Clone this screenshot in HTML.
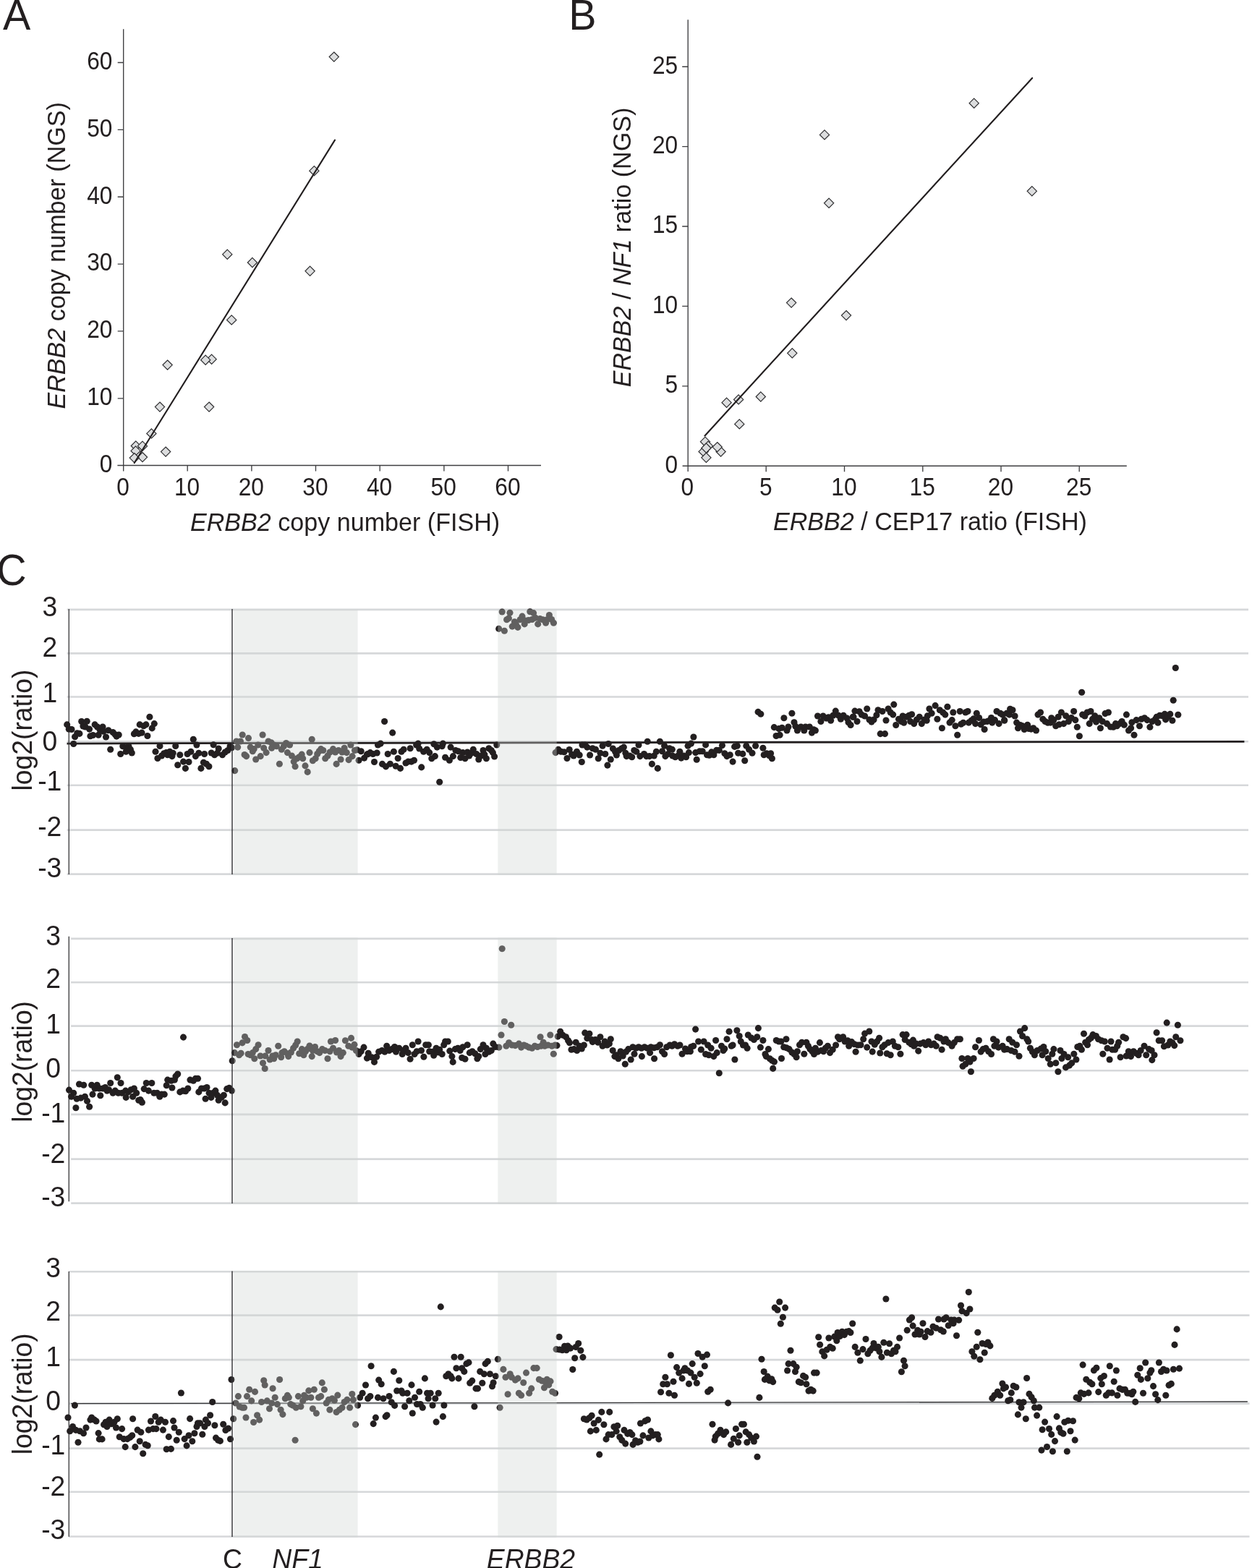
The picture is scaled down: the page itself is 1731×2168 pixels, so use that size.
<!DOCTYPE html>
<html lang="en"><head><meta charset="utf-8"><title>ERBB2 copy number: NGS vs FISH</title>
<style>html,body{margin:0;padding:0;background:#fff}body{width:1731px;height:2168px;overflow:hidden}svg{display:block}text{font-family:'Liberation Sans', 'DejaVu Sans', sans-serif;fill:#231f20}.t{font-size:31.7px}.l{font-size:34.1px}.c{font-size:37.3px}.p{font-size:57.4px}.i{font-style:italic}.ax{stroke:#3e3e40;stroke-width:1.35;fill:none}.g{stroke:#d6d8da;stroke-width:2.6;fill:none}.d{fill:#dcddde;stroke:#2e2e30;stroke-width:1.2}.k{fill:#231f20}</style></head><body>
<svg width="1731" height="2168" viewBox="0 0 1731 2168">
<rect width="1731" height="2168" fill="#fff"/>
<text class="p" transform="translate(3.9 40.8) scale(1 1.03)">A</text>
<text class="p" transform="translate(786.3 40.8) scale(1 1.03)">B</text>
<text class="p" transform="translate(-4.8 809.2) scale(1 1.05)">C</text>
<g id="panelA">
<path class="ax" d="M170.7 40.3V651.5M162.4 643.5H748"/>
<path class="ax" d="M259.2 643.5v8M170.7 550.8h-8M347.9 643.5v8M170.7 457.9h-8M436.5 643.5v8M170.7 365.1h-8M525.2 643.5v8M170.7 272.2h-8M613.9 643.5v8M170.7 179.4h-8M702.5 643.5v8M170.7 86.5h-8"/>
<text class="t" text-anchor="middle" transform="translate(170 684.6) scale(1 1.085)">0</text>
<text class="t" text-anchor="end" transform="translate(155.4 652.9) scale(1 1.085)">0</text>
<text class="t" text-anchor="middle" transform="translate(258.6 684.6) scale(1 1.085)">10</text>
<text class="t" text-anchor="end" transform="translate(155.4 560) scale(1 1.085)">10</text>
<text class="t" text-anchor="middle" transform="translate(347.3 684.6) scale(1 1.085)">20</text>
<text class="t" text-anchor="end" transform="translate(155.4 467.2) scale(1 1.085)">20</text>
<text class="t" text-anchor="middle" transform="translate(435.9 684.6) scale(1 1.085)">30</text>
<text class="t" text-anchor="end" transform="translate(155.4 374.4) scale(1 1.085)">30</text>
<text class="t" text-anchor="middle" transform="translate(524.6 684.6) scale(1 1.085)">40</text>
<text class="t" text-anchor="end" transform="translate(155.4 281.5) scale(1 1.085)">40</text>
<text class="t" text-anchor="middle" transform="translate(613.2 684.6) scale(1 1.085)">50</text>
<text class="t" text-anchor="end" transform="translate(155.4 188.7) scale(1 1.085)">50</text>
<text class="t" text-anchor="middle" transform="translate(701.9 684.6) scale(1 1.085)">60</text>
<text class="t" text-anchor="end" transform="translate(155.4 95.8) scale(1 1.085)">60</text>
<text class="l" transform="translate(263 733.8) scale(1 1.02)"><tspan class="i">ERBB2</tspan> copy number (FISH)</text>
<text class="l" text-anchor="middle" transform="translate(89.5 353.3) rotate(-90) scale(1 1.02)"><tspan class="i">ERBB2</tspan> copy number (NGS)</text>
<path class="d" d="M314.3 345.1l6.6 6.6l-6.6 6.6l-6.6 -6.6z"/>
<path class="d" d="M348.9 356.4l6.6 6.6l-6.6 6.6l-6.6 -6.6z"/>
<path class="d" d="M428.6 368.2l6.6 6.6l-6.6 6.6l-6.6 -6.6z"/>
<path class="d" d="M320.2 435.8l6.6 6.6l-6.6 6.6l-6.6 -6.6z"/>
<path class="d" d="M292.6 490.1l6.6 6.6l-6.6 6.6l-6.6 -6.6z"/>
<path class="d" d="M284.2 491.1l6.6 6.6l-6.6 6.6l-6.6 -6.6z"/>
<path class="d" d="M231.6 498l6.6 6.6l-6.6 6.6l-6.6 -6.6z"/>
<path class="d" d="M221 556l6.6 6.6l-6.6 6.6l-6.6 -6.6z"/>
<path class="d" d="M289.1 556l6.6 6.6l-6.6 6.6l-6.6 -6.6z"/>
<path class="d" d="M209.4 592.8l6.6 6.6l-6.6 6.6l-6.6 -6.6z"/>
<path class="d" d="M187.8 609.9l6.6 6.6l-6.6 6.6l-6.6 -6.6z"/>
<path class="d" d="M197 610.1l6.6 6.6l-6.6 6.6l-6.6 -6.6z"/>
<path class="d" d="M187.6 616.8l6.6 6.6l-6.6 6.6l-6.6 -6.6z"/>
<path class="d" d="M229.1 618l6.6 6.6l-6.6 6.6l-6.6 -6.6z"/>
<path class="d" d="M197 625.5l6.6 6.6l-6.6 6.6l-6.6 -6.6z"/>
<path class="d" d="M185.8 626.5l6.6 6.6l-6.6 6.6l-6.6 -6.6z"/>
<path class="d" d="M461.8 72l6.6 6.6l-6.6 6.6l-6.6 -6.6z"/>
<path class="d" d="M434.4 229.6l6.6 6.6l-6.6 6.6l-6.6 -6.6z"/>
<path d="M185.8 640L463 193.6" stroke="#231f20" stroke-width="2.15" stroke-linecap="round" fill="none"/>
</g>
<g id="panelB">
<path class="ax" d="M951.2 27.2V652M943.6 644.2H1557.8"/>
<path class="ax" d="M1059.2 644.2v8M951.2 533.8h-8M1167.5 644.2v8M951.2 423.4h-8M1275.8 644.2v8M951.2 313h-8M1384 644.2v8M951.2 202.6h-8M1492.2 644.2v8M951.2 92.2h-8"/>
<text class="t" text-anchor="middle" transform="translate(950.4 685.2) scale(1 1.085)">0</text>
<text class="t" text-anchor="end" transform="translate(937.2 653.5) scale(1 1.085)">0</text>
<text class="t" text-anchor="middle" transform="translate(1058.7 685.2) scale(1 1.085)">5</text>
<text class="t" text-anchor="end" transform="translate(937.2 543.1) scale(1 1.085)">5</text>
<text class="t" text-anchor="middle" transform="translate(1166.9 685.2) scale(1 1.085)">10</text>
<text class="t" text-anchor="end" transform="translate(937.2 432.7) scale(1 1.085)">10</text>
<text class="t" text-anchor="middle" transform="translate(1275.2 685.2) scale(1 1.085)">15</text>
<text class="t" text-anchor="end" transform="translate(937.2 322.3) scale(1 1.085)">15</text>
<text class="t" text-anchor="middle" transform="translate(1383.4 685.2) scale(1 1.085)">20</text>
<text class="t" text-anchor="end" transform="translate(937.2 211.9) scale(1 1.085)">20</text>
<text class="t" text-anchor="middle" transform="translate(1491.7 685.2) scale(1 1.085)">25</text>
<text class="t" text-anchor="end" transform="translate(937.2 101.5) scale(1 1.085)">25</text>
<text class="l" transform="translate(1069 732.6) scale(1 1.02)"><tspan class="i">ERBB2</tspan> / CEP17 ratio (FISH)</text>
<text class="l" text-anchor="middle" transform="translate(871.5 342) rotate(-90) scale(1 1.02)"><tspan class="i">ERBB2</tspan> / <tspan class="i">NF1</tspan> ratio (NGS)</text>
<path class="d" d="M1094.1 412l6.6 6.6l-6.6 6.6l-6.6 -6.6z"/>
<path class="d" d="M1170 429.5l6.6 6.6l-6.6 6.6l-6.6 -6.6z"/>
<path class="d" d="M1095.3 481.7l6.6 6.6l-6.6 6.6l-6.6 -6.6z"/>
<path class="d" d="M1051.8 541.9l6.6 6.6l-6.6 6.6l-6.6 -6.6z"/>
<path class="d" d="M1021.1 545.8l6.6 6.6l-6.6 6.6l-6.6 -6.6z"/>
<path class="d" d="M1004.6 550.1l6.6 6.6l-6.6 6.6l-6.6 -6.6z"/>
<path class="d" d="M1022.3 579.8l6.6 6.6l-6.6 6.6l-6.6 -6.6z"/>
<path class="d" d="M975 604.1l6.6 6.6l-6.6 6.6l-6.6 -6.6z"/>
<path class="d" d="M979.1 610.1l6.6 6.6l-6.6 6.6l-6.6 -6.6z"/>
<path class="d" d="M972.6 617.8l6.6 6.6l-6.6 6.6l-6.6 -6.6z"/>
<path class="d" d="M976.4 626.2l6.6 6.6l-6.6 6.6l-6.6 -6.6z"/>
<path class="d" d="M976.4 612.9l6.6 6.6l-6.6 6.6l-6.6 -6.6z"/>
<path class="d" d="M996.6 617.9l6.6 6.6l-6.6 6.6l-6.6 -6.6z"/>
<path class="d" d="M991.7 611.5l6.6 6.6l-6.6 6.6l-6.6 -6.6z"/>
<path class="d" d="M1140 179.8l6.6 6.6l-6.6 6.6l-6.6 -6.6z"/>
<path class="d" d="M1146.1 274.2l6.6 6.6l-6.6 6.6l-6.6 -6.6z"/>
<path class="d" d="M1346.7 136.1l6.6 6.6l-6.6 6.6l-6.6 -6.6z"/>
<path class="d" d="M1426.8 257.7l6.6 6.6l-6.6 6.6l-6.6 -6.6z"/>
<path d="M974.5 602.4L1427.1 107.9" stroke="#231f20" stroke-width="2.15" stroke-linecap="round" fill="none"/>
</g>
<g id="panelC">
<g id="c1">
<path class="g" d="M92.7 842.9H1726M92.7 903.4H1726M92.7 963.5H1726M92.7 1025.2H1726M92.7 1085.7H1726M92.7 1147.6H1726M92.7 1208.6H1726"/>
<path d="M92.5 1028L1720.4 1025.3" stroke="#231f20" stroke-width="2.75" fill="none"/>
<path class="ax" d="M95.3 842V1209"/>
<g class="k"><circle cx="92.7" cy="1001.9" r="4.55"/><circle cx="95.2" cy="1008.1" r="4.55"/><circle cx="99" cy="1008.5" r="4.55"/><circle cx="101.7" cy="1028.5" r="4.55"/><circle cx="103.6" cy="1018.7" r="4.55"/><circle cx="106.7" cy="1013.7" r="4.55"/><circle cx="109.9" cy="1014.4" r="4.55"/><circle cx="112.7" cy="997.5" r="4.55"/><circle cx="114.9" cy="1004" r="4.55"/><circle cx="118" cy="1005" r="4.55"/><circle cx="120.2" cy="997.2" r="4.55"/><circle cx="123.6" cy="1008.1" r="4.55"/><circle cx="124.9" cy="1017.7" r="4.55"/><circle cx="128.6" cy="1016.5" r="4.55"/><circle cx="131.1" cy="1001.9" r="4.55"/><circle cx="134.5" cy="1005" r="4.55"/><circle cx="136.1" cy="1016.2" r="4.55"/><circle cx="138" cy="1008.7" r="4.55"/><circle cx="142" cy="1005" r="4.55"/><circle cx="143" cy="1011.2" r="4.55"/><circle cx="146.5" cy="1019" r="4.55"/><circle cx="149.8" cy="1009.7" r="4.55"/><circle cx="152.7" cy="1036.2" r="4.55"/><circle cx="156.1" cy="1012.5" r="4.55"/><circle cx="159.2" cy="1015.6" r="4.55"/><circle cx="161.1" cy="1018.1" r="4.55"/><circle cx="164.2" cy="1016" r="4.55"/><circle cx="166.7" cy="1042.5" r="4.55"/><circle cx="169.8" cy="1031.8" r="4.55"/><circle cx="174.2" cy="1033.7" r="4.55"/><circle cx="174.2" cy="1039.3" r="4.55"/><circle cx="177.9" cy="1031.8" r="4.55"/><circle cx="180.4" cy="1036.2" r="4.55"/><circle cx="182.3" cy="1041" r="4.55"/><circle cx="185.4" cy="1014.7" r="4.55"/><circle cx="187.9" cy="1011.9" r="4.55"/><circle cx="191.7" cy="1014.4" r="4.55"/><circle cx="193.2" cy="1001.9" r="4.55"/><circle cx="196.1" cy="1013.1" r="4.55"/><circle cx="198.6" cy="1003.7" r="4.55"/><circle cx="201.9" cy="1001.9" r="4.55"/><circle cx="203.9" cy="1017.5" r="4.55"/><circle cx="206.9" cy="991.2" r="4.55"/><circle cx="210.2" cy="1006.9" r="4.55"/><circle cx="213.3" cy="1000.6" r="4.55"/><circle cx="215" cy="1039.3" r="4.55"/><circle cx="217.9" cy="1048.5" r="4.55"/><circle cx="221" cy="1031.5" r="4.55"/><circle cx="223.5" cy="1045" r="4.55"/><circle cx="226.7" cy="1041.8" r="4.55"/><circle cx="229.8" cy="1040.6" r="4.55"/><circle cx="231.7" cy="1043.7" r="4.55"/><circle cx="234.8" cy="1039.3" r="4.55"/><circle cx="237.9" cy="1045.6" r="4.55"/><circle cx="239.2" cy="1041.2" r="4.55"/><circle cx="242.7" cy="1031.5" r="4.55"/><circle cx="245.7" cy="1057.7" r="4.55"/><circle cx="248.8" cy="1043.7" r="4.55"/><circle cx="253.5" cy="1053.1" r="4.55"/><circle cx="256.4" cy="1062.4" r="4.55"/><circle cx="259.1" cy="1042.5" r="4.55"/><circle cx="261" cy="1053.5" r="4.55"/><circle cx="263.9" cy="1039.3" r="4.55"/><circle cx="267.3" cy="1022.2" r="4.55"/><circle cx="270.4" cy="1045.6" r="4.55"/><circle cx="271.9" cy="1030" r="4.55"/><circle cx="274.8" cy="1041.2" r="4.55"/><circle cx="277.9" cy="1062.4" r="4.55"/><circle cx="281.4" cy="1054.3" r="4.55"/><circle cx="282.6" cy="1042.5" r="4.55"/><circle cx="285.4" cy="1056.2" r="4.55"/><circle cx="288.9" cy="1059.7" r="4.55"/><circle cx="292.2" cy="1041" r="4.55"/><circle cx="295.1" cy="1029.7" r="4.55"/><circle cx="296.6" cy="1043.7" r="4.55"/><circle cx="300.4" cy="1041.2" r="4.55"/><circle cx="302.2" cy="1035" r="4.55"/><circle cx="307.5" cy="1043.7" r="4.55"/><circle cx="311.2" cy="1040" r="4.55"/><circle cx="315" cy="1037.5" r="4.55"/><circle cx="318.1" cy="1031.8" r="4.55"/><circle cx="320.6" cy="1033.7" r="4.55"/><circle cx="324.7" cy="1065.6" r="4.55"/><circle cx="326.9" cy="1025" r="4.55"/><circle cx="328.7" cy="1033.1" r="4.55"/><circle cx="332.5" cy="1025" r="4.55"/><circle cx="335.2" cy="1016" r="4.55"/><circle cx="338.1" cy="1043.5" r="4.55"/><circle cx="340.6" cy="1045.6" r="4.55"/><circle cx="343.5" cy="1020.6" r="4.55"/><circle cx="346.2" cy="1033.1" r="4.55"/><circle cx="349.3" cy="1038.7" r="4.55"/><circle cx="351.2" cy="1035.6" r="4.55"/><circle cx="353.7" cy="1050" r="4.55"/><circle cx="356.8" cy="1030" r="4.55"/><circle cx="360.2" cy="1045.6" r="4.55"/><circle cx="363.1" cy="1016" r="4.55"/><circle cx="364.7" cy="1034.3" r="4.55"/><circle cx="368.1" cy="1040.6" r="4.55"/><circle cx="371" cy="1025" r="4.55"/><circle cx="375" cy="1026.8" r="4.55"/><circle cx="375.6" cy="1034.3" r="4.55"/><circle cx="378.7" cy="1030" r="4.55"/><circle cx="382.4" cy="1031.8" r="4.55"/><circle cx="386.4" cy="1056.2" r="4.55"/><circle cx="389.3" cy="1036.2" r="4.55"/><circle cx="392.4" cy="1031.8" r="4.55"/><circle cx="395.6" cy="1027.5" r="4.55"/><circle cx="397.4" cy="1040.6" r="4.55"/><circle cx="400.6" cy="1030" r="4.55"/><circle cx="403.4" cy="1045" r="4.55"/><circle cx="406.2" cy="1053.1" r="4.55"/><circle cx="408.1" cy="1059.7" r="4.55"/><circle cx="410.6" cy="1048.7" r="4.55"/><circle cx="413.7" cy="1046.8" r="4.55"/><circle cx="417.2" cy="1043.1" r="4.55"/><circle cx="418.7" cy="1048.7" r="4.55"/><circle cx="422" cy="1058.9" r="4.55"/><circle cx="425.2" cy="1067.4" r="4.55"/><circle cx="428" cy="1040.6" r="4.55"/><circle cx="431.2" cy="1022.2" r="4.55"/><circle cx="432.4" cy="1051.8" r="4.55"/><circle cx="436.2" cy="1048.7" r="4.55"/><circle cx="438.7" cy="1042.5" r="4.55"/><circle cx="441.2" cy="1038.7" r="4.55"/><circle cx="443.7" cy="1035.6" r="4.55"/><circle cx="446.8" cy="1037.5" r="4.55"/><circle cx="449.7" cy="1048.7" r="4.55"/><circle cx="453" cy="1045" r="4.55"/><circle cx="456.1" cy="1040" r="4.55"/><circle cx="460.5" cy="1035.6" r="4.55"/><circle cx="463.6" cy="1040" r="4.55"/><circle cx="465.1" cy="1056.4" r="4.55"/><circle cx="468" cy="1037.5" r="4.55"/><circle cx="471.1" cy="1050" r="4.55"/><circle cx="473" cy="1040" r="4.55"/><circle cx="476.1" cy="1034.3" r="4.55"/><circle cx="479.3" cy="1040.6" r="4.55"/><circle cx="482.1" cy="1050.6" r="4.55"/><circle cx="484.9" cy="1030" r="4.55"/><circle cx="487.1" cy="1045.6" r="4.55"/><circle cx="490.5" cy="1037.5" r="4.55"/><circle cx="493.6" cy="1036.8" r="4.55"/><circle cx="496.1" cy="1051.2" r="4.55"/><circle cx="499.2" cy="1038.7" r="4.55"/><circle cx="503.6" cy="1048.1" r="4.55"/><circle cx="507.4" cy="1043.1" r="4.55"/><circle cx="508.7" cy="1042.5" r="4.55"/><circle cx="511.9" cy="1040.6" r="4.55"/><circle cx="515.6" cy="1042.5" r="4.55"/><circle cx="517.5" cy="1053.5" r="4.55"/><circle cx="521.2" cy="1041" r="4.55"/><circle cx="522.5" cy="1030" r="4.55"/><circle cx="526.2" cy="1028.1" r="4.55"/><circle cx="528.5" cy="1056.4" r="4.55"/><circle cx="531.6" cy="997.5" r="4.55"/><circle cx="533.5" cy="1059.9" r="4.55"/><circle cx="536.2" cy="1042.5" r="4.55"/><circle cx="539.4" cy="1056.2" r="4.55"/><circle cx="542.7" cy="1013.1" r="4.55"/><circle cx="544.4" cy="1039.3" r="4.55"/><circle cx="547.2" cy="1059.3" r="4.55"/><circle cx="550.2" cy="1048.5" r="4.55"/><circle cx="553.5" cy="1062.4" r="4.55"/><circle cx="555" cy="1039.3" r="4.55"/><circle cx="558.1" cy="1036.2" r="4.55"/><circle cx="561" cy="1055" r="4.55"/><circle cx="564.3" cy="1053.1" r="4.55"/><circle cx="567.2" cy="1034.7" r="4.55"/><circle cx="568.7" cy="1053.1" r="4.55"/><circle cx="572.5" cy="1051.2" r="4.55"/><circle cx="575.6" cy="1030" r="4.55"/><circle cx="578.1" cy="1028.1" r="4.55"/><circle cx="579.7" cy="1035" r="4.55"/><circle cx="582.7" cy="1060.9" r="4.55"/><circle cx="585.6" cy="1039.3" r="4.55"/><circle cx="590.2" cy="1036.2" r="4.55"/><circle cx="593.7" cy="1040.6" r="4.55"/><circle cx="596.8" cy="1048.7" r="4.55"/><circle cx="599.9" cy="1028.7" r="4.55"/><circle cx="601.4" cy="1045.6" r="4.55"/><circle cx="604.3" cy="1033.1" r="4.55"/><circle cx="607.7" cy="1081.2" r="4.55"/><circle cx="611.2" cy="1031.8" r="4.55"/><circle cx="612.4" cy="1028.1" r="4.55"/><circle cx="615.6" cy="1047.2" r="4.55"/><circle cx="621.4" cy="1051.2" r="4.55"/><circle cx="623.1" cy="1033.1" r="4.55"/><circle cx="626.4" cy="1045.6" r="4.55"/><circle cx="629.9" cy="1037.5" r="4.55"/><circle cx="633.7" cy="1038.7" r="4.55"/><circle cx="636.8" cy="1047.5" r="4.55"/><circle cx="639.9" cy="1040.6" r="4.55"/><circle cx="643" cy="1048.7" r="4.55"/><circle cx="646.2" cy="1040" r="4.55"/><circle cx="648.7" cy="1045" r="4.55"/><circle cx="651.8" cy="1041.2" r="4.55"/><circle cx="654.3" cy="1036.2" r="4.55"/><circle cx="658.7" cy="1042.5" r="4.55"/><circle cx="661.8" cy="1050" r="4.55"/><circle cx="664.9" cy="1045" r="4.55"/><circle cx="668" cy="1037.5" r="4.55"/><circle cx="669.9" cy="1043.1" r="4.55"/><circle cx="672.4" cy="1048.7" r="4.55"/><circle cx="675.9" cy="1034.7" r="4.55"/><circle cx="679.3" cy="1037.5" r="4.55"/><circle cx="681.4" cy="1040.6" r="4.55"/><circle cx="683.6" cy="1046" r="4.55"/><circle cx="686.8" cy="1030" r="4.55"/><circle cx="689.7" cy="869.4" r="4.55"/><circle cx="694.2" cy="846" r="4.55"/><circle cx="697.4" cy="872.3" r="4.55"/><circle cx="700.6" cy="856.8" r="4.55"/><circle cx="703.4" cy="854.9" r="4.55"/><circle cx="705" cy="847.3" r="4.55"/><circle cx="708.2" cy="866.1" r="4.55"/><circle cx="711.4" cy="859.7" r="4.55"/><circle cx="713.4" cy="863.2" r="4.55"/><circle cx="715.9" cy="867.4" r="4.55"/><circle cx="719.1" cy="856.8" r="4.55"/><circle cx="722" cy="852.1" r="4.55"/><circle cx="725.2" cy="862.9" r="4.55"/><circle cx="726.1" cy="858.1" r="4.55"/><circle cx="730.6" cy="857.5" r="4.55"/><circle cx="732.8" cy="845.7" r="4.55"/><circle cx="735.7" cy="856.5" r="4.55"/><circle cx="737.6" cy="847.6" r="4.55"/><circle cx="740.2" cy="854.3" r="4.55"/><circle cx="743.7" cy="862.9" r="4.55"/><circle cx="746.6" cy="855.6" r="4.55"/><circle cx="750.4" cy="856.8" r="4.55"/><circle cx="754.6" cy="861.3" r="4.55"/><circle cx="756.2" cy="856.8" r="4.55"/><circle cx="759.4" cy="850.5" r="4.55"/><circle cx="762.6" cy="856.5" r="4.55"/><circle cx="765.4" cy="861.3" r="4.55"/><circle cx="768.1" cy="1040.6" r="4.55"/><circle cx="771.9" cy="1036.2" r="4.55"/><circle cx="775.6" cy="1039.3" r="4.55"/><circle cx="780" cy="1039.7" r="4.55"/><circle cx="784" cy="1048.5" r="4.55"/><circle cx="787.2" cy="1036.5" r="4.55"/><circle cx="790.6" cy="1043.1" r="4.55"/><circle cx="793.1" cy="1045" r="4.55"/><circle cx="797.5" cy="1039.3" r="4.55"/><circle cx="801.2" cy="1044" r="4.55"/><circle cx="804.3" cy="1053.5" r="4.55"/><circle cx="805" cy="1030" r="4.55"/><circle cx="808.7" cy="1030" r="4.55"/><circle cx="811.8" cy="1033.1" r="4.55"/><circle cx="815.6" cy="1044" r="4.55"/><circle cx="819.3" cy="1034.7" r="4.55"/><circle cx="823.5" cy="1036.2" r="4.55"/><circle cx="827.2" cy="1048.7" r="4.55"/><circle cx="830" cy="1041.2" r="4.55"/><circle cx="833.1" cy="1031.2" r="4.55"/><circle cx="836.8" cy="1042.5" r="4.55"/><circle cx="839.9" cy="1058.1" r="4.55"/><circle cx="841.2" cy="1028.5" r="4.55"/><circle cx="844.3" cy="1050" r="4.55"/><circle cx="847.4" cy="1035" r="4.55"/><circle cx="850.6" cy="1039.3" r="4.55"/><circle cx="852.4" cy="1044" r="4.55"/><circle cx="855.6" cy="1037.5" r="4.55"/><circle cx="859.3" cy="1035" r="4.55"/><circle cx="862.4" cy="1033.1" r="4.55"/><circle cx="864.9" cy="1041.2" r="4.55"/><circle cx="866.2" cy="1045.6" r="4.55"/><circle cx="870.6" cy="1045" r="4.55"/><circle cx="873.7" cy="1046.8" r="4.55"/><circle cx="876.8" cy="1037.5" r="4.55"/><circle cx="879.9" cy="1039.3" r="4.55"/><circle cx="883" cy="1030" r="4.55"/><circle cx="884.9" cy="1045.6" r="4.55"/><circle cx="890.5" cy="1042.5" r="4.55"/><circle cx="893.7" cy="1045.6" r="4.55"/><circle cx="895.2" cy="1025.3" r="4.55"/><circle cx="898" cy="1045.6" r="4.55"/><circle cx="901.4" cy="1056.4" r="4.55"/><circle cx="904.3" cy="1045" r="4.55"/><circle cx="907.4" cy="1039.3" r="4.55"/><circle cx="909.3" cy="1062.4" r="4.55"/><circle cx="912.4" cy="1025.3" r="4.55"/><circle cx="915.5" cy="1038.7" r="4.55"/><circle cx="918.6" cy="1031.2" r="4.55"/><circle cx="919.9" cy="1045.6" r="4.55"/><circle cx="923.6" cy="1042.5" r="4.55"/><circle cx="925.5" cy="1034.7" r="4.55"/><circle cx="929.3" cy="1036.2" r="4.55"/><circle cx="929.9" cy="1045" r="4.55"/><circle cx="933.6" cy="1046.8" r="4.55"/><circle cx="937.4" cy="1045" r="4.55"/><circle cx="939.9" cy="1039.3" r="4.55"/><circle cx="941.8" cy="1048.1" r="4.55"/><circle cx="945.5" cy="1045" r="4.55"/><circle cx="948.6" cy="1046.8" r="4.55"/><circle cx="951.1" cy="1031.2" r="4.55"/><circle cx="952.4" cy="1040.6" r="4.55"/><circle cx="955.5" cy="1028.1" r="4.55"/><circle cx="958.9" cy="1019" r="4.55"/><circle cx="961.7" cy="1040.6" r="4.55"/><circle cx="963.2" cy="1050.3" r="4.55"/><circle cx="967.4" cy="1038.7" r="4.55"/><circle cx="971.2" cy="1038.7" r="4.55"/><circle cx="975.6" cy="1029.9" r="4.55"/><circle cx="977.5" cy="1043.7" r="4.55"/><circle cx="980.6" cy="1044.3" r="4.55"/><circle cx="983.7" cy="1039.9" r="4.55"/><circle cx="986.9" cy="1043.7" r="4.55"/><circle cx="990.6" cy="1037.4" r="4.55"/><circle cx="994.4" cy="1037.4" r="4.55"/><circle cx="998.5" cy="1030.6" r="4.55"/><circle cx="1001.9" cy="1041.8" r="4.55"/><circle cx="1005" cy="1045.6" r="4.55"/><circle cx="1009.3" cy="1043.7" r="4.55"/><circle cx="1013.1" cy="1053.1" r="4.55"/><circle cx="1015.6" cy="1032.4" r="4.55"/><circle cx="1019.3" cy="1031.2" r="4.55"/><circle cx="1020.6" cy="1041.2" r="4.55"/><circle cx="1026.8" cy="1042.4" r="4.55"/><circle cx="1029.7" cy="1051.8" r="4.55"/><circle cx="1031.8" cy="1031.2" r="4.55"/><circle cx="1035.6" cy="1036.2" r="4.55"/><circle cx="1040" cy="1041.2" r="4.55"/><circle cx="1044.6" cy="1031.2" r="4.55"/><circle cx="1048.1" cy="984.4" r="4.55"/><circle cx="1051.8" cy="987.2" r="4.55"/><circle cx="1054.9" cy="1034.3" r="4.55"/><circle cx="1056.2" cy="1043.7" r="4.55"/><circle cx="1059.9" cy="1041.8" r="4.55"/><circle cx="1063.7" cy="1044.9" r="4.55"/><circle cx="1065.6" cy="1041.8" r="4.55"/><circle cx="1067.4" cy="1048.7" r="4.55"/><circle cx="1070.3" cy="1005.6" r="4.55"/><circle cx="1073.1" cy="1017.5" r="4.55"/><circle cx="1076.8" cy="1007.5" r="4.55"/><circle cx="1078.1" cy="1016.2" r="4.55"/><circle cx="1081.2" cy="1006.2" r="4.55"/><circle cx="1083.9" cy="992.7" r="4.55"/><circle cx="1088" cy="1010" r="4.55"/><circle cx="1089.9" cy="1005" r="4.55"/><circle cx="1094.9" cy="986.2" r="4.55"/><circle cx="1098" cy="998.7" r="4.55"/><circle cx="1099.9" cy="1004.3" r="4.55"/><circle cx="1102.4" cy="1010" r="4.55"/><circle cx="1107.4" cy="1005" r="4.55"/><circle cx="1111.8" cy="1010" r="4.55"/><circle cx="1113.7" cy="1005" r="4.55"/><circle cx="1119.3" cy="1005" r="4.55"/><circle cx="1122.4" cy="1013.1" r="4.55"/><circle cx="1124.9" cy="1008.7" r="4.55"/><circle cx="1127.4" cy="1010" r="4.55"/><circle cx="1130.5" cy="990" r="4.55"/><circle cx="1134.9" cy="997.5" r="4.55"/><circle cx="1138" cy="990" r="4.55"/><circle cx="1142.4" cy="993.1" r="4.55"/><circle cx="1145.5" cy="991.8" r="4.55"/><circle cx="1148.6" cy="996.2" r="4.55"/><circle cx="1151.8" cy="989.3" r="4.55"/><circle cx="1155.3" cy="983.1" r="4.55"/><circle cx="1159.3" cy="989.3" r="4.55"/><circle cx="1162.4" cy="994.3" r="4.55"/><circle cx="1166.1" cy="989.3" r="4.55"/><circle cx="1171.1" cy="993.1" r="4.55"/><circle cx="1173" cy="998.7" r="4.55"/><circle cx="1176.1" cy="1002.5" r="4.55"/><circle cx="1179.2" cy="991.2" r="4.55"/><circle cx="1180" cy="991.2" r="4.55"/><circle cx="1181.9" cy="983.1" r="4.55"/><circle cx="1185" cy="997.5" r="4.55"/><circle cx="1188.1" cy="983.7" r="4.55"/><circle cx="1191.2" cy="988.1" r="4.55"/><circle cx="1195.6" cy="990" r="4.55"/><circle cx="1198.7" cy="980" r="4.55"/><circle cx="1201.9" cy="995" r="4.55"/><circle cx="1205" cy="998.1" r="4.55"/><circle cx="1208.1" cy="995" r="4.55"/><circle cx="1211.9" cy="988.7" r="4.55"/><circle cx="1214" cy="981.8" r="4.55"/><circle cx="1217.2" cy="1014.6" r="4.55"/><circle cx="1220" cy="983.5" r="4.55"/><circle cx="1223.5" cy="1014.6" r="4.55"/><circle cx="1225" cy="996" r="4.55"/><circle cx="1228.1" cy="980" r="4.55"/><circle cx="1231.2" cy="985" r="4.55"/><circle cx="1234.7" cy="988.1" r="4.55"/><circle cx="1235.8" cy="974.1" r="4.55"/><circle cx="1238.7" cy="1002.5" r="4.55"/><circle cx="1242.5" cy="994.3" r="4.55"/><circle cx="1246.2" cy="997.5" r="4.55"/><circle cx="1248.1" cy="990" r="4.55"/><circle cx="1249.7" cy="999.3" r="4.55"/><circle cx="1253.1" cy="991.2" r="4.55"/><circle cx="1256.8" cy="989.3" r="4.55"/><circle cx="1258.7" cy="997.5" r="4.55"/><circle cx="1260.6" cy="987.7" r="4.55"/><circle cx="1263.7" cy="1000.6" r="4.55"/><circle cx="1267.4" cy="995" r="4.55"/><circle cx="1271.2" cy="991.2" r="4.55"/><circle cx="1274.3" cy="1000.6" r="4.55"/><circle cx="1278.1" cy="995" r="4.55"/><circle cx="1281.2" cy="996.2" r="4.55"/><circle cx="1282.4" cy="989.7" r="4.55"/><circle cx="1284.9" cy="980" r="4.55"/><circle cx="1288.1" cy="986.2" r="4.55"/><circle cx="1293.1" cy="975.6" r="4.55"/><circle cx="1295.9" cy="994.3" r="4.55"/><circle cx="1299.3" cy="981.8" r="4.55"/><circle cx="1302.4" cy="1006.8" r="4.55"/><circle cx="1303.7" cy="985" r="4.55"/><circle cx="1306.8" cy="988.1" r="4.55"/><circle cx="1309.9" cy="977.2" r="4.55"/><circle cx="1313" cy="999.1" r="4.55"/><circle cx="1316.2" cy="995.6" r="4.55"/><circle cx="1317.8" cy="985" r="4.55"/><circle cx="1320.9" cy="1003.7" r="4.55"/><circle cx="1323.7" cy="1016.2" r="4.55"/><circle cx="1327.2" cy="983.5" r="4.55"/><circle cx="1328.7" cy="1001.2" r="4.55"/><circle cx="1331.8" cy="999.3" r="4.55"/><circle cx="1334.9" cy="985" r="4.55"/><circle cx="1338" cy="983.5" r="4.55"/><circle cx="1339.3" cy="999.1" r="4.55"/><circle cx="1343" cy="996.2" r="4.55"/><circle cx="1346.1" cy="993.7" r="4.55"/><circle cx="1348.6" cy="1000.6" r="4.55"/><circle cx="1350.3" cy="986.2" r="4.55"/><circle cx="1353.6" cy="992.5" r="4.55"/><circle cx="1356.1" cy="1001.8" r="4.55"/><circle cx="1359.9" cy="998.1" r="4.55"/><circle cx="1361.1" cy="1008.5" r="4.55"/><circle cx="1364.9" cy="997.5" r="4.55"/><circle cx="1368" cy="996.2" r="4.55"/><circle cx="1370.5" cy="992.5" r="4.55"/><circle cx="1371.8" cy="999.1" r="4.55"/><circle cx="1375.5" cy="995.6" r="4.55"/><circle cx="1378" cy="983.5" r="4.55"/><circle cx="1381.1" cy="1000.6" r="4.55"/><circle cx="1383" cy="986.2" r="4.55"/><circle cx="1386.1" cy="988.1" r="4.55"/><circle cx="1388.6" cy="995.6" r="4.55"/><circle cx="1388.7" cy="996.2" r="4.55"/><circle cx="1391.9" cy="986.2" r="4.55"/><circle cx="1395.6" cy="988.1" r="4.55"/><circle cx="1396.6" cy="980.3" r="4.55"/><circle cx="1400" cy="981.8" r="4.55"/><circle cx="1403.1" cy="990" r="4.55"/><circle cx="1405.6" cy="999.1" r="4.55"/><circle cx="1407.5" cy="1006.8" r="4.55"/><circle cx="1410.6" cy="1002.5" r="4.55"/><circle cx="1413.7" cy="1003.7" r="4.55"/><circle cx="1416.2" cy="1008.5" r="4.55"/><circle cx="1420.6" cy="1002.2" r="4.55"/><circle cx="1422.5" cy="1007.5" r="4.55"/><circle cx="1425.6" cy="1008.1" r="4.55"/><circle cx="1428.7" cy="1006.8" r="4.55"/><circle cx="1432.5" cy="1010" r="4.55"/><circle cx="1435" cy="988.1" r="4.55"/><circle cx="1438.5" cy="985" r="4.55"/><circle cx="1441.8" cy="994.3" r="4.55"/><circle cx="1445" cy="997.5" r="4.55"/><circle cx="1448.7" cy="999.3" r="4.55"/><circle cx="1452.5" cy="999.1" r="4.55"/><circle cx="1453.7" cy="992.8" r="4.55"/><circle cx="1456.8" cy="995.6" r="4.55"/><circle cx="1459.7" cy="1003.7" r="4.55"/><circle cx="1463.1" cy="991.2" r="4.55"/><circle cx="1464.3" cy="1001.8" r="4.55"/><circle cx="1467.4" cy="985" r="4.55"/><circle cx="1470.6" cy="1000.6" r="4.55"/><circle cx="1473.7" cy="989.7" r="4.55"/><circle cx="1477.4" cy="997.5" r="4.55"/><circle cx="1481.2" cy="992.5" r="4.55"/><circle cx="1484.6" cy="983.5" r="4.55"/><circle cx="1486.8" cy="995.6" r="4.55"/><circle cx="1489.3" cy="1005.3" r="4.55"/><circle cx="1492.4" cy="1017.8" r="4.55"/><circle cx="1495.6" cy="957.2" r="4.55"/><circle cx="1496.6" cy="988.1" r="4.55"/><circle cx="1499.9" cy="990" r="4.55"/><circle cx="1503.1" cy="985" r="4.55"/><circle cx="1506.2" cy="1000.6" r="4.55"/><circle cx="1508" cy="983.5" r="4.55"/><circle cx="1510.5" cy="994.3" r="4.55"/><circle cx="1513.7" cy="989.7" r="4.55"/><circle cx="1515.5" cy="998.1" r="4.55"/><circle cx="1519.9" cy="992.8" r="4.55"/><circle cx="1521.4" cy="1006.8" r="4.55"/><circle cx="1524.3" cy="997.5" r="4.55"/><circle cx="1528" cy="986.6" r="4.55"/><circle cx="1530.5" cy="1000.6" r="4.55"/><circle cx="1532.4" cy="985" r="4.55"/><circle cx="1535.5" cy="1005" r="4.55"/><circle cx="1539.3" cy="1005.3" r="4.55"/><circle cx="1542.4" cy="1000.6" r="4.55"/><circle cx="1544.3" cy="1003.7" r="4.55"/><circle cx="1548" cy="1000.6" r="4.55"/><circle cx="1551.1" cy="997.5" r="4.55"/><circle cx="1554.3" cy="1002.2" r="4.55"/><circle cx="1557.4" cy="988.1" r="4.55"/><circle cx="1560.5" cy="1010" r="4.55"/><circle cx="1563.6" cy="1006.8" r="4.55"/><circle cx="1564.9" cy="998.7" r="4.55"/><circle cx="1568" cy="1016.2" r="4.55"/><circle cx="1571.1" cy="995.6" r="4.55"/><circle cx="1575.5" cy="1003.7" r="4.55"/><circle cx="1578" cy="994.3" r="4.55"/><circle cx="1582.4" cy="992.8" r="4.55"/><circle cx="1586.1" cy="995.6" r="4.55"/><circle cx="1589.9" cy="1005.3" r="4.55"/><circle cx="1593" cy="997.5" r="4.55"/><circle cx="1597.4" cy="994.3" r="4.55"/><circle cx="1599.2" cy="991.2" r="4.55"/><circle cx="1600.9" cy="999.3" r="4.55"/><circle cx="1603.4" cy="989.3" r="4.55"/><circle cx="1607.2" cy="989.9" r="4.55"/><circle cx="1610.3" cy="987.4" r="4.55"/><circle cx="1611.6" cy="994.9" r="4.55"/><circle cx="1614.7" cy="991.2" r="4.55"/><circle cx="1617.8" cy="987.4" r="4.55"/><circle cx="1620.9" cy="996.2" r="4.55"/><circle cx="1622.2" cy="968.3" r="4.55"/><circle cx="1625.3" cy="923.5" r="4.55"/><circle cx="1628.8" cy="988.3" r="4.55"/></g>
<rect x="323.2" y="842.4" width="171.4" height="367.5" fill="#d0d5d2" fill-opacity="0.36"/>
<rect x="688.3" y="842.4" width="81.4" height="367.5" fill="#d0d5d2" fill-opacity="0.36"/>
<path d="M321 842.1V1208.9" stroke="#3a3a3c" stroke-width="1.5" fill="none"/>
<text class="c" transform="translate(58.6 852) scale(1 1.05)">3</text>
<text class="c" transform="translate(58.6 908.2) scale(1 1.05)">2</text>
<text class="c" transform="translate(58.6 970.6) scale(1 1.05)">1</text>
<text class="c" transform="translate(58.6 1037.5) scale(1 1.05)">0</text>
<text class="c" transform="translate(52.2 1093.4) scale(1 1.05)">-1</text>
<text class="c" transform="translate(52.2 1156.2) scale(1 1.05)">-2</text>
<text class="c" transform="translate(52.2 1213.3) scale(1 1.05)">-3</text>
<text class="c" text-anchor="middle" transform="translate(44.2 1009.6) rotate(-90) scale(1 1.05)">log2(ratio)</text>
</g>
<g id="c2">
<path class="g" d="M98.2 1297.9H1726M98.2 1358.2H1726M98.2 1418.6H1726M98.2 1480.3H1726M98.2 1540.9H1726M98.2 1602.6H1726M98.2 1663.6H1726"/>
<path class="ax" d="M95.3 1294.8V1661.3"/>
<g class="k"><circle cx="95.5" cy="1507.1" r="4.55"/><circle cx="98.6" cy="1516.2" r="4.55"/><circle cx="101.7" cy="1511.2" r="4.55"/><circle cx="104.9" cy="1531.8" r="4.55"/><circle cx="106.1" cy="1519.3" r="4.55"/><circle cx="109.5" cy="1499" r="4.55"/><circle cx="111.7" cy="1518.1" r="4.55"/><circle cx="115.7" cy="1500.3" r="4.55"/><circle cx="117.4" cy="1516.2" r="4.55"/><circle cx="120.5" cy="1522.4" r="4.55"/><circle cx="123.6" cy="1530.2" r="4.55"/><circle cx="126.7" cy="1500.3" r="4.55"/><circle cx="128" cy="1513.1" r="4.55"/><circle cx="131.1" cy="1505" r="4.55"/><circle cx="134.2" cy="1500.3" r="4.55"/><circle cx="137.3" cy="1505" r="4.55"/><circle cx="138.8" cy="1514.7" r="4.55"/><circle cx="142.3" cy="1505" r="4.55"/><circle cx="145.5" cy="1503.5" r="4.55"/><circle cx="148" cy="1508.1" r="4.55"/><circle cx="150.5" cy="1506.8" r="4.55"/><circle cx="152.7" cy="1497.5" r="4.55"/><circle cx="156.1" cy="1511.2" r="4.55"/><circle cx="159.2" cy="1508.1" r="4.55"/><circle cx="162.3" cy="1489.7" r="4.55"/><circle cx="163.6" cy="1511.2" r="4.55"/><circle cx="167" cy="1497.5" r="4.55"/><circle cx="168.6" cy="1511.2" r="4.55"/><circle cx="173.6" cy="1508.1" r="4.55"/><circle cx="174.2" cy="1517.4" r="4.55"/><circle cx="177.3" cy="1509.9" r="4.55"/><circle cx="181.1" cy="1506.8" r="4.55"/><circle cx="183.6" cy="1516.2" r="4.55"/><circle cx="185.4" cy="1505" r="4.55"/><circle cx="188.6" cy="1511.2" r="4.55"/><circle cx="191.7" cy="1521.2" r="4.55"/><circle cx="194.2" cy="1520.6" r="4.55"/><circle cx="196.4" cy="1524.3" r="4.55"/><circle cx="199.2" cy="1505.6" r="4.55"/><circle cx="202.3" cy="1497.5" r="4.55"/><circle cx="205.4" cy="1508.1" r="4.55"/><circle cx="209.8" cy="1497.5" r="4.55"/><circle cx="212.9" cy="1511.2" r="4.55"/><circle cx="217.3" cy="1511.2" r="4.55"/><circle cx="220.8" cy="1516.2" r="4.55"/><circle cx="223.5" cy="1513.1" r="4.55"/><circle cx="227.3" cy="1513.1" r="4.55"/><circle cx="230.2" cy="1500.8" r="4.55"/><circle cx="231.7" cy="1493.1" r="4.55"/><circle cx="236.7" cy="1494.3" r="4.55"/><circle cx="237.9" cy="1504" r="4.55"/><circle cx="241.4" cy="1493.1" r="4.55"/><circle cx="242.9" cy="1488.1" r="4.55"/><circle cx="245.7" cy="1485" r="4.55"/><circle cx="248.8" cy="1509.9" r="4.55"/><circle cx="252.9" cy="1508.1" r="4.55"/><circle cx="253.5" cy="1434.1" r="4.55"/><circle cx="256.6" cy="1508.7" r="4.55"/><circle cx="259.8" cy="1505" r="4.55"/><circle cx="262.9" cy="1493.1" r="4.55"/><circle cx="267.3" cy="1494.3" r="4.55"/><circle cx="270.4" cy="1491.2" r="4.55"/><circle cx="273.5" cy="1491.2" r="4.55"/><circle cx="274.8" cy="1509.9" r="4.55"/><circle cx="278.5" cy="1505" r="4.55"/><circle cx="282.3" cy="1505" r="4.55"/><circle cx="284.1" cy="1519.3" r="4.55"/><circle cx="286" cy="1503.5" r="4.55"/><circle cx="289.1" cy="1511.2" r="4.55"/><circle cx="291.9" cy="1517.4" r="4.55"/><circle cx="294.7" cy="1511.2" r="4.55"/><circle cx="297.9" cy="1508.1" r="4.55"/><circle cx="300.4" cy="1514.3" r="4.55"/><circle cx="302.2" cy="1521.2" r="4.55"/><circle cx="306.2" cy="1517.4" r="4.55"/><circle cx="309.4" cy="1514.3" r="4.55"/><circle cx="311.2" cy="1524.9" r="4.55"/><circle cx="313.7" cy="1505.6" r="4.55"/><circle cx="316.9" cy="1504.3" r="4.55"/><circle cx="320.6" cy="1508.1" r="4.55"/><circle cx="321.2" cy="1466.8" r="4.55"/><circle cx="324.4" cy="1455.6" r="4.55"/><circle cx="327.5" cy="1444.7" r="4.55"/><circle cx="330.6" cy="1458.7" r="4.55"/><circle cx="333.1" cy="1456.2" r="4.55"/><circle cx="335" cy="1441.9" r="4.55"/><circle cx="338.5" cy="1433.5" r="4.55"/><circle cx="341.8" cy="1438.5" r="4.55"/><circle cx="343.1" cy="1457.5" r="4.55"/><circle cx="346.2" cy="1458.7" r="4.55"/><circle cx="349.3" cy="1455.6" r="4.55"/><circle cx="351.8" cy="1463.7" r="4.55"/><circle cx="353.7" cy="1450.6" r="4.55"/><circle cx="357.1" cy="1444.7" r="4.55"/><circle cx="360" cy="1460" r="4.55"/><circle cx="363.5" cy="1469.7" r="4.55"/><circle cx="366.2" cy="1477.5" r="4.55"/><circle cx="366.8" cy="1460" r="4.55"/><circle cx="371" cy="1452.5" r="4.55"/><circle cx="373.1" cy="1465" r="4.55"/><circle cx="376.8" cy="1460" r="4.55"/><circle cx="378.7" cy="1463.7" r="4.55"/><circle cx="381.2" cy="1458.7" r="4.55"/><circle cx="384.7" cy="1446.2" r="4.55"/><circle cx="388.7" cy="1461.8" r="4.55"/><circle cx="389.9" cy="1455.6" r="4.55"/><circle cx="393.1" cy="1453.7" r="4.55"/><circle cx="397.4" cy="1456.8" r="4.55"/><circle cx="398.7" cy="1460.6" r="4.55"/><circle cx="402.4" cy="1455" r="4.55"/><circle cx="405.6" cy="1449.3" r="4.55"/><circle cx="408.7" cy="1445" r="4.55"/><circle cx="411.2" cy="1440" r="4.55"/><circle cx="413.7" cy="1456.8" r="4.55"/><circle cx="417.4" cy="1450.6" r="4.55"/><circle cx="419.9" cy="1458.7" r="4.55"/><circle cx="422.4" cy="1453.7" r="4.55"/><circle cx="424.9" cy="1450.6" r="4.55"/><circle cx="428" cy="1446" r="4.55"/><circle cx="431.2" cy="1460.6" r="4.55"/><circle cx="432.4" cy="1452.5" r="4.55"/><circle cx="435.5" cy="1447.5" r="4.55"/><circle cx="438.7" cy="1453.7" r="4.55"/><circle cx="441.8" cy="1455.6" r="4.55"/><circle cx="445.5" cy="1450.6" r="4.55"/><circle cx="449.3" cy="1452.5" r="4.55"/><circle cx="453" cy="1463.7" r="4.55"/><circle cx="456.1" cy="1453.7" r="4.55"/><circle cx="457.4" cy="1440" r="4.55"/><circle cx="460.5" cy="1449.3" r="4.55"/><circle cx="463.6" cy="1438.5" r="4.55"/><circle cx="465.5" cy="1455" r="4.55"/><circle cx="468.6" cy="1452.5" r="4.55"/><circle cx="471.1" cy="1460.6" r="4.55"/><circle cx="474.3" cy="1455.6" r="4.55"/><circle cx="477.4" cy="1438.7" r="4.55"/><circle cx="481.8" cy="1446.2" r="4.55"/><circle cx="485.5" cy="1435.4" r="4.55"/><circle cx="486.8" cy="1448.1" r="4.55"/><circle cx="489.9" cy="1444.4" r="4.55"/><circle cx="492.4" cy="1452.5" r="4.55"/><circle cx="496.1" cy="1457.5" r="4.55"/><circle cx="499.2" cy="1453.7" r="4.55"/><circle cx="503" cy="1448.1" r="4.55"/><circle cx="507.4" cy="1463.1" r="4.55"/><circle cx="509.2" cy="1456.2" r="4.55"/><circle cx="513.7" cy="1461.8" r="4.55"/><circle cx="517.5" cy="1468.4" r="4.55"/><circle cx="520.6" cy="1461.2" r="4.55"/><circle cx="523.7" cy="1454.3" r="4.55"/><circle cx="528.1" cy="1452.5" r="4.55"/><circle cx="531.9" cy="1454.3" r="4.55"/><circle cx="534.7" cy="1446.2" r="4.55"/><circle cx="538.1" cy="1452.5" r="4.55"/><circle cx="541.9" cy="1450.6" r="4.55"/><circle cx="545.6" cy="1447.5" r="4.55"/><circle cx="547.5" cy="1454.3" r="4.55"/><circle cx="551.8" cy="1449.3" r="4.55"/><circle cx="556.2" cy="1457.5" r="4.55"/><circle cx="557.5" cy="1452.5" r="4.55"/><circle cx="561" cy="1449.3" r="4.55"/><circle cx="564.3" cy="1455.6" r="4.55"/><circle cx="567.1" cy="1464.3" r="4.55"/><circle cx="570.3" cy="1444.7" r="4.55"/><circle cx="573.1" cy="1457.5" r="4.55"/><circle cx="576.2" cy="1453.7" r="4.55"/><circle cx="578.1" cy="1440" r="4.55"/><circle cx="582.5" cy="1452.5" r="4.55"/><circle cx="585.9" cy="1461.2" r="4.55"/><circle cx="588.7" cy="1444.7" r="4.55"/><circle cx="592.4" cy="1444.7" r="4.55"/><circle cx="593.7" cy="1453.7" r="4.55"/><circle cx="598.1" cy="1454.3" r="4.55"/><circle cx="599.7" cy="1459.3" r="4.55"/><circle cx="603.1" cy="1449.3" r="4.55"/><circle cx="606.2" cy="1455" r="4.55"/><circle cx="607.7" cy="1451.2" r="4.55"/><circle cx="611.2" cy="1457.5" r="4.55"/><circle cx="613.7" cy="1444.7" r="4.55"/><circle cx="615.6" cy="1440" r="4.55"/><circle cx="619.3" cy="1440" r="4.55"/><circle cx="621.8" cy="1453.1" r="4.55"/><circle cx="624.9" cy="1460.6" r="4.55"/><circle cx="626.2" cy="1468.4" r="4.55"/><circle cx="629.3" cy="1450.6" r="4.55"/><circle cx="633" cy="1449.3" r="4.55"/><circle cx="636.2" cy="1452.5" r="4.55"/><circle cx="638.7" cy="1462.5" r="4.55"/><circle cx="639.9" cy="1447.8" r="4.55"/><circle cx="643" cy="1464.3" r="4.55"/><circle cx="646.2" cy="1444.7" r="4.55"/><circle cx="649.3" cy="1455.6" r="4.55"/><circle cx="653" cy="1453.7" r="4.55"/><circle cx="656.8" cy="1456.8" r="4.55"/><circle cx="659.9" cy="1463.7" r="4.55"/><circle cx="661.8" cy="1460.6" r="4.55"/><circle cx="664.3" cy="1450.6" r="4.55"/><circle cx="668" cy="1444.7" r="4.55"/><circle cx="670.9" cy="1457.5" r="4.55"/><circle cx="672.4" cy="1449.3" r="4.55"/><circle cx="676.1" cy="1454.3" r="4.55"/><circle cx="679.3" cy="1452.5" r="4.55"/><circle cx="681.8" cy="1443.1" r="4.55"/><circle cx="684.9" cy="1447.5" r="4.55"/><circle cx="689.9" cy="1448.1" r="4.55"/><circle cx="693" cy="1431" r="4.55"/><circle cx="694.2" cy="1311.8" r="4.55"/><circle cx="697.4" cy="1412.5" r="4.55"/><circle cx="699.9" cy="1446.2" r="4.55"/><circle cx="703.6" cy="1441.8" r="4.55"/><circle cx="706.7" cy="1417.2" r="4.55"/><circle cx="708" cy="1445" r="4.55"/><circle cx="712.4" cy="1445.6" r="4.55"/><circle cx="717.4" cy="1443.1" r="4.55"/><circle cx="720.6" cy="1448.1" r="4.55"/><circle cx="724.4" cy="1445" r="4.55"/><circle cx="727.5" cy="1446.2" r="4.55"/><circle cx="731.2" cy="1448.1" r="4.55"/><circle cx="735.6" cy="1449.3" r="4.55"/><circle cx="739.4" cy="1446.2" r="4.55"/><circle cx="743.1" cy="1447.5" r="4.55"/><circle cx="747.1" cy="1433.7" r="4.55"/><circle cx="748.1" cy="1446.2" r="4.55"/><circle cx="751.2" cy="1441.2" r="4.55"/><circle cx="753.1" cy="1446.2" r="4.55"/><circle cx="757.5" cy="1445" r="4.55"/><circle cx="760.8" cy="1431" r="4.55"/><circle cx="763.1" cy="1446.2" r="4.55"/><circle cx="765.3" cy="1457.2" r="4.55"/><circle cx="767.5" cy="1445" r="4.55"/><circle cx="770" cy="1445.6" r="4.55"/><circle cx="771.2" cy="1433.1" r="4.55"/><circle cx="774.7" cy="1426.2" r="4.55"/><circle cx="778.1" cy="1431.2" r="4.55"/><circle cx="782.5" cy="1433.7" r="4.55"/><circle cx="785.6" cy="1438.7" r="4.55"/><circle cx="787.5" cy="1441.8" r="4.55"/><circle cx="790" cy="1451.2" r="4.55"/><circle cx="793.7" cy="1450.6" r="4.55"/><circle cx="796.2" cy="1441.2" r="4.55"/><circle cx="797.7" cy="1452.5" r="4.55"/><circle cx="801.2" cy="1446.2" r="4.55"/><circle cx="804.3" cy="1450" r="4.55"/><circle cx="807.4" cy="1445" r="4.55"/><circle cx="808.7" cy="1428.1" r="4.55"/><circle cx="811.8" cy="1435.6" r="4.55"/><circle cx="814.9" cy="1429.3" r="4.55"/><circle cx="818.1" cy="1437.5" r="4.55"/><circle cx="819.3" cy="1440.6" r="4.55"/><circle cx="823.1" cy="1437.5" r="4.55"/><circle cx="826.8" cy="1441.2" r="4.55"/><circle cx="829.9" cy="1433.7" r="4.55"/><circle cx="833.1" cy="1446.2" r="4.55"/><circle cx="836.2" cy="1440" r="4.55"/><circle cx="839.3" cy="1445" r="4.55"/><circle cx="842.4" cy="1443.1" r="4.55"/><circle cx="844.3" cy="1436.8" r="4.55"/><circle cx="847.2" cy="1452.5" r="4.55"/><circle cx="849.9" cy="1460.6" r="4.55"/><circle cx="852.4" cy="1458.7" r="4.55"/><circle cx="854.9" cy="1463.7" r="4.55"/><circle cx="858" cy="1453.7" r="4.55"/><circle cx="861.2" cy="1460" r="4.55"/><circle cx="864.3" cy="1471.2" r="4.55"/><circle cx="865.5" cy="1454.3" r="4.55"/><circle cx="868.7" cy="1450.6" r="4.55"/><circle cx="872.2" cy="1465" r="4.55"/><circle cx="874.9" cy="1447.8" r="4.55"/><circle cx="877" cy="1457.2" r="4.55"/><circle cx="879.3" cy="1449.3" r="4.55"/><circle cx="883" cy="1447.8" r="4.55"/><circle cx="886.8" cy="1449.3" r="4.55"/><circle cx="887.4" cy="1460.6" r="4.55"/><circle cx="891.1" cy="1447.8" r="4.55"/><circle cx="894.9" cy="1449.3" r="4.55"/><circle cx="898.6" cy="1455.6" r="4.55"/><circle cx="899.9" cy="1447.8" r="4.55"/><circle cx="904.3" cy="1448.7" r="4.55"/><circle cx="904.6" cy="1463.7" r="4.55"/><circle cx="908.6" cy="1447.8" r="4.55"/><circle cx="912.4" cy="1444.7" r="4.55"/><circle cx="915.5" cy="1453.7" r="4.55"/><circle cx="918.6" cy="1457.5" r="4.55"/><circle cx="921.7" cy="1447.8" r="4.55"/><circle cx="926.1" cy="1445" r="4.55"/><circle cx="929.2" cy="1446.2" r="4.55"/><circle cx="932.5" cy="1443.7" r="4.55"/><circle cx="936.9" cy="1446.2" r="4.55"/><circle cx="940" cy="1445" r="4.55"/><circle cx="943.1" cy="1457.2" r="4.55"/><circle cx="947.5" cy="1450" r="4.55"/><circle cx="950" cy="1453.7" r="4.55"/><circle cx="954.4" cy="1453.7" r="4.55"/><circle cx="955.6" cy="1447.5" r="4.55"/><circle cx="958.7" cy="1446.2" r="4.55"/><circle cx="961.6" cy="1423.1" r="4.55"/><circle cx="965.6" cy="1440" r="4.55"/><circle cx="969.3" cy="1451.2" r="4.55"/><circle cx="973.1" cy="1440" r="4.55"/><circle cx="975.6" cy="1457.5" r="4.55"/><circle cx="978.7" cy="1445" r="4.55"/><circle cx="980" cy="1458.7" r="4.55"/><circle cx="983.1" cy="1449.3" r="4.55"/><circle cx="986.8" cy="1460.6" r="4.55"/><circle cx="989.6" cy="1438.5" r="4.55"/><circle cx="991.2" cy="1455.6" r="4.55"/><circle cx="994.3" cy="1483.7" r="4.55"/><circle cx="997.5" cy="1446.2" r="4.55"/><circle cx="1000" cy="1452.5" r="4.55"/><circle cx="1001.8" cy="1450" r="4.55"/><circle cx="1005" cy="1436.8" r="4.55"/><circle cx="1008.1" cy="1426.2" r="4.55"/><circle cx="1011.2" cy="1446.2" r="4.55"/><circle cx="1013.1" cy="1445" r="4.55"/><circle cx="1015.9" cy="1465" r="4.55"/><circle cx="1018.9" cy="1424.7" r="4.55"/><circle cx="1022.2" cy="1432.5" r="4.55"/><circle cx="1024.3" cy="1440" r="4.55"/><circle cx="1027.4" cy="1445" r="4.55"/><circle cx="1030.6" cy="1445" r="4.55"/><circle cx="1033.1" cy="1449.3" r="4.55"/><circle cx="1034.3" cy="1431" r="4.55"/><circle cx="1038.7" cy="1435" r="4.55"/><circle cx="1042.4" cy="1437.5" r="4.55"/><circle cx="1046.8" cy="1433.7" r="4.55"/><circle cx="1048.4" cy="1421.6" r="4.55"/><circle cx="1051.4" cy="1448.1" r="4.55"/><circle cx="1054.9" cy="1438.5" r="4.55"/><circle cx="1058" cy="1457.5" r="4.55"/><circle cx="1059.3" cy="1460.6" r="4.55"/><circle cx="1062.4" cy="1450.6" r="4.55"/><circle cx="1064.3" cy="1463.7" r="4.55"/><circle cx="1067.4" cy="1466.2" r="4.55"/><circle cx="1068.7" cy="1477.4" r="4.55"/><circle cx="1070.5" cy="1468.1" r="4.55"/><circle cx="1073.3" cy="1438.5" r="4.55"/><circle cx="1076.8" cy="1440" r="4.55"/><circle cx="1079.9" cy="1440" r="4.55"/><circle cx="1080.5" cy="1463.5" r="4.55"/><circle cx="1083.7" cy="1447.8" r="4.55"/><circle cx="1087" cy="1436.8" r="4.55"/><circle cx="1087.4" cy="1448.7" r="4.55"/><circle cx="1091.1" cy="1450.6" r="4.55"/><circle cx="1094.9" cy="1455" r="4.55"/><circle cx="1098" cy="1457.5" r="4.55"/><circle cx="1101.1" cy="1461.8" r="4.55"/><circle cx="1102.4" cy="1453.7" r="4.55"/><circle cx="1105.5" cy="1444.7" r="4.55"/><circle cx="1108.6" cy="1441.2" r="4.55"/><circle cx="1111.8" cy="1457.2" r="4.55"/><circle cx="1114.9" cy="1441.2" r="4.55"/><circle cx="1117.4" cy="1446.2" r="4.55"/><circle cx="1119.9" cy="1450.6" r="4.55"/><circle cx="1123" cy="1453.7" r="4.55"/><circle cx="1125.5" cy="1457.5" r="4.55"/><circle cx="1127.4" cy="1449.3" r="4.55"/><circle cx="1130.5" cy="1454.3" r="4.55"/><circle cx="1133.4" cy="1441.6" r="4.55"/><circle cx="1135.5" cy="1452.5" r="4.55"/><circle cx="1138.6" cy="1453.7" r="4.55"/><circle cx="1141.2" cy="1449.3" r="4.55"/><circle cx="1144.4" cy="1446.2" r="4.55"/><circle cx="1147.5" cy="1455.6" r="4.55"/><circle cx="1151.2" cy="1451.2" r="4.55"/><circle cx="1155.6" cy="1445" r="4.55"/><circle cx="1158.5" cy="1433.7" r="4.55"/><circle cx="1160.6" cy="1436.8" r="4.55"/><circle cx="1165.6" cy="1433.7" r="4.55"/><circle cx="1168.1" cy="1440" r="4.55"/><circle cx="1171.9" cy="1438.7" r="4.55"/><circle cx="1173.7" cy="1446.2" r="4.55"/><circle cx="1177.5" cy="1440.6" r="4.55"/><circle cx="1181.2" cy="1443.7" r="4.55"/><circle cx="1183.1" cy="1454.3" r="4.55"/><circle cx="1186.2" cy="1445" r="4.55"/><circle cx="1190" cy="1444.7" r="4.55"/><circle cx="1193.7" cy="1436.8" r="4.55"/><circle cx="1195.6" cy="1429.1" r="4.55"/><circle cx="1198.7" cy="1448.1" r="4.55"/><circle cx="1201.8" cy="1426" r="4.55"/><circle cx="1205" cy="1440" r="4.55"/><circle cx="1206.2" cy="1454.1" r="4.55"/><circle cx="1209.3" cy="1444.3" r="4.55"/><circle cx="1212.5" cy="1440" r="4.55"/><circle cx="1215.6" cy="1435.3" r="4.55"/><circle cx="1216.8" cy="1456" r="4.55"/><circle cx="1219.9" cy="1447.8" r="4.55"/><circle cx="1223.1" cy="1444.7" r="4.55"/><circle cx="1226.2" cy="1456.8" r="4.55"/><circle cx="1228.1" cy="1441.6" r="4.55"/><circle cx="1231.2" cy="1458.7" r="4.55"/><circle cx="1234.3" cy="1440" r="4.55"/><circle cx="1237.4" cy="1446.2" r="4.55"/><circle cx="1241.8" cy="1447.8" r="4.55"/><circle cx="1244.9" cy="1457.2" r="4.55"/><circle cx="1248.1" cy="1430.6" r="4.55"/><circle cx="1251.2" cy="1437.5" r="4.55"/><circle cx="1253.1" cy="1430.6" r="4.55"/><circle cx="1256.8" cy="1441.2" r="4.55"/><circle cx="1259.9" cy="1443.7" r="4.55"/><circle cx="1262.4" cy="1438.1" r="4.55"/><circle cx="1263.7" cy="1446.2" r="4.55"/><circle cx="1266.8" cy="1443.1" r="4.55"/><circle cx="1269.7" cy="1453.1" r="4.55"/><circle cx="1272.4" cy="1443.1" r="4.55"/><circle cx="1276.8" cy="1441.6" r="4.55"/><circle cx="1279.9" cy="1444.7" r="4.55"/><circle cx="1283.7" cy="1440" r="4.55"/><circle cx="1287.4" cy="1444.7" r="4.55"/><circle cx="1291.2" cy="1443.1" r="4.55"/><circle cx="1294.3" cy="1446.2" r="4.55"/><circle cx="1296.1" cy="1433.7" r="4.55"/><circle cx="1299.9" cy="1435.3" r="4.55"/><circle cx="1302.1" cy="1451.2" r="4.55"/><circle cx="1304.9" cy="1440" r="4.55"/><circle cx="1307.4" cy="1436.8" r="4.55"/><circle cx="1311.1" cy="1441.6" r="4.55"/><circle cx="1316.1" cy="1446.2" r="4.55"/><circle cx="1319.3" cy="1441.6" r="4.55"/><circle cx="1323.6" cy="1436.8" r="4.55"/><circle cx="1327.4" cy="1436.8" r="4.55"/><circle cx="1329.9" cy="1463.5" r="4.55"/><circle cx="1331.1" cy="1474.3" r="4.55"/><circle cx="1334.9" cy="1471.2" r="4.55"/><circle cx="1338" cy="1463.5" r="4.55"/><circle cx="1341.1" cy="1468.1" r="4.55"/><circle cx="1342.4" cy="1481.8" r="4.55"/><circle cx="1346.1" cy="1463.5" r="4.55"/><circle cx="1348.6" cy="1447.8" r="4.55"/><circle cx="1353.4" cy="1438.5" r="4.55"/><circle cx="1356.1" cy="1454.1" r="4.55"/><circle cx="1359.2" cy="1450.6" r="4.55"/><circle cx="1363" cy="1449.3" r="4.55"/><circle cx="1366.7" cy="1453.7" r="4.55"/><circle cx="1370.5" cy="1457.5" r="4.55"/><circle cx="1373.4" cy="1436.8" r="4.55"/><circle cx="1374.9" cy="1446.2" r="4.55"/><circle cx="1378" cy="1440" r="4.55"/><circle cx="1380.5" cy="1448.1" r="4.55"/><circle cx="1386.1" cy="1446.2" r="4.55"/><circle cx="1388.6" cy="1451.2" r="4.55"/><circle cx="1392.3" cy="1450.6" r="4.55"/><circle cx="1395.2" cy="1436.8" r="4.55"/><circle cx="1398" cy="1452.5" r="4.55"/><circle cx="1399.8" cy="1441.2" r="4.55"/><circle cx="1403" cy="1454.3" r="4.55"/><circle cx="1405.5" cy="1444.7" r="4.55"/><circle cx="1409" cy="1460.3" r="4.55"/><circle cx="1410.5" cy="1426" r="4.55"/><circle cx="1413.6" cy="1432.5" r="4.55"/><circle cx="1416.7" cy="1421.6" r="4.55"/><circle cx="1419.8" cy="1436.8" r="4.55"/><circle cx="1421.7" cy="1440" r="4.55"/><circle cx="1424.4" cy="1449.3" r="4.55"/><circle cx="1427.3" cy="1454.1" r="4.55"/><circle cx="1430.4" cy="1458.7" r="4.55"/><circle cx="1434.2" cy="1452.5" r="4.55"/><circle cx="1439.2" cy="1450" r="4.55"/><circle cx="1441.1" cy="1458.7" r="4.55"/><circle cx="1442.9" cy="1447.5" r="4.55"/><circle cx="1445.7" cy="1453.7" r="4.55"/><circle cx="1449.2" cy="1463.5" r="4.55"/><circle cx="1452.3" cy="1471.2" r="4.55"/><circle cx="1454.8" cy="1457.2" r="4.55"/><circle cx="1456.9" cy="1450.6" r="4.55"/><circle cx="1459.8" cy="1469.7" r="4.55"/><circle cx="1462.9" cy="1481.8" r="4.55"/><circle cx="1466" cy="1452.5" r="4.55"/><circle cx="1467.9" cy="1463.5" r="4.55"/><circle cx="1471" cy="1457.5" r="4.55"/><circle cx="1473.5" cy="1475.9" r="4.55"/><circle cx="1476.7" cy="1461.8" r="4.55"/><circle cx="1478.5" cy="1473.1" r="4.55"/><circle cx="1481.7" cy="1469.9" r="4.55"/><circle cx="1484.8" cy="1457.2" r="4.55"/><circle cx="1487.9" cy="1465" r="4.55"/><circle cx="1489.8" cy="1447.5" r="4.55"/><circle cx="1492.9" cy="1446.2" r="4.55"/><circle cx="1495.4" cy="1451.2" r="4.55"/><circle cx="1498.5" cy="1429.3" r="4.55"/><circle cx="1500.7" cy="1441.2" r="4.55"/><circle cx="1503.5" cy="1444.7" r="4.55"/><circle cx="1505.4" cy="1437.5" r="4.55"/><circle cx="1508.5" cy="1435" r="4.55"/><circle cx="1511" cy="1430.6" r="4.55"/><circle cx="1515.4" cy="1432.5" r="4.55"/><circle cx="1518.5" cy="1436.8" r="4.55"/><circle cx="1522.9" cy="1438.7" r="4.55"/><circle cx="1524.8" cy="1457.2" r="4.55"/><circle cx="1527.3" cy="1440" r="4.55"/><circle cx="1531" cy="1449.3" r="4.55"/><circle cx="1534.1" cy="1465" r="4.55"/><circle cx="1536" cy="1440" r="4.55"/><circle cx="1537.9" cy="1451.2" r="4.55"/><circle cx="1541.6" cy="1451.2" r="4.55"/><circle cx="1544.7" cy="1446.2" r="4.55"/><circle cx="1546.6" cy="1441.2" r="4.55"/><circle cx="1549.1" cy="1461.8" r="4.55"/><circle cx="1552.9" cy="1433.7" r="4.55"/><circle cx="1556.6" cy="1435.6" r="4.55"/><circle cx="1557.2" cy="1460" r="4.55"/><circle cx="1560.3" cy="1453.7" r="4.55"/><circle cx="1563.5" cy="1460.6" r="4.55"/><circle cx="1567.2" cy="1453.7" r="4.55"/><circle cx="1571" cy="1456.2" r="4.55"/><circle cx="1574.1" cy="1458.7" r="4.55"/><circle cx="1577.2" cy="1452.5" r="4.55"/><circle cx="1582" cy="1446.2" r="4.55"/><circle cx="1584.7" cy="1458.7" r="4.55"/><circle cx="1588.5" cy="1450.6" r="4.55"/><circle cx="1592.2" cy="1452.5" r="4.55"/><circle cx="1592.8" cy="1465.6" r="4.55"/><circle cx="1596" cy="1458.7" r="4.55"/><circle cx="1599.1" cy="1427.8" r="4.55"/><circle cx="1602.2" cy="1438.7" r="4.55"/><circle cx="1606.6" cy="1438.7" r="4.55"/><circle cx="1609.4" cy="1446.8" r="4.55"/><circle cx="1613.2" cy="1414.1" r="4.55"/><circle cx="1614.7" cy="1445" r="4.55"/><circle cx="1617.8" cy="1440" r="4.55"/><circle cx="1620.9" cy="1441.8" r="4.55"/><circle cx="1623.7" cy="1445.6" r="4.55"/><circle cx="1625.7" cy="1433.7" r="4.55"/><circle cx="1628.4" cy="1417.2" r="4.55"/><circle cx="1631.9" cy="1438.7" r="4.55"/></g>
<rect x="323.2" y="1296.4" width="171.4" height="368.5" fill="#d0d5d2" fill-opacity="0.36"/>
<rect x="688.3" y="1296.4" width="81.4" height="368.5" fill="#d0d5d2" fill-opacity="0.36"/>
<path d="M321 1297.1V1663.9" stroke="#3a3a3c" stroke-width="1.5" fill="none"/>
<text class="c" transform="translate(63.2 1306.6) scale(1 1.05)">3</text>
<text class="c" transform="translate(63.2 1366.2) scale(1 1.05)">2</text>
<text class="c" transform="translate(63.2 1428.6) scale(1 1.05)">1</text>
<text class="c" transform="translate(63.2 1490.4) scale(1 1.05)">0</text>
<text class="c" transform="translate(57.2 1551.7) scale(1 1.05)">-1</text>
<text class="c" transform="translate(57.2 1608.4) scale(1 1.05)">-2</text>
<text class="c" transform="translate(57.2 1668.4) scale(1 1.05)">-3</text>
<text class="c" text-anchor="middle" transform="translate(44.2 1467.9) rotate(-90) scale(1 1.05)">log2(ratio)</text>
</g>
<g id="c3">
<path class="g" d="M95.3 1758.2H1727.5M95.3 1818.6H1727.5M95.3 1880.1H1727.5M95.3 1940.6H1727.5M95.3 2002.6H1727.5M95.3 2062.7H1727.5M95.3 2124.5H1727.5"/>
<path d="M98.2 1940.6L1724.9 1938" stroke="#333335" stroke-width="1.3" fill="none"/>
<path class="ax" d="M95.3 1757.9V2124.7"/>
<g class="k"><circle cx="94" cy="1960" r="4.55"/><circle cx="96.7" cy="1978.7" r="4.55"/><circle cx="100.5" cy="1972.5" r="4.55"/><circle cx="103.4" cy="1943.1" r="4.55"/><circle cx="104.9" cy="1977.4" r="4.55"/><circle cx="108" cy="1994.3" r="4.55"/><circle cx="110.5" cy="1978.7" r="4.55"/><circle cx="115.5" cy="1981.8" r="4.55"/><circle cx="119" cy="1974" r="4.55"/><circle cx="124.9" cy="1963.1" r="4.55"/><circle cx="126.7" cy="1960" r="4.55"/><circle cx="130.5" cy="1963.1" r="4.55"/><circle cx="133" cy="1965" r="4.55"/><circle cx="136.1" cy="1981.6" r="4.55"/><circle cx="137.3" cy="1989.9" r="4.55"/><circle cx="141.1" cy="1989.9" r="4.55"/><circle cx="143.6" cy="1969.7" r="4.55"/><circle cx="146.1" cy="1966.2" r="4.55"/><circle cx="148" cy="1972.5" r="4.55"/><circle cx="151.1" cy="1963.1" r="4.55"/><circle cx="154.2" cy="1968.7" r="4.55"/><circle cx="158" cy="1966.2" r="4.55"/><circle cx="160.5" cy="1974" r="4.55"/><circle cx="162.3" cy="1961.8" r="4.55"/><circle cx="165.2" cy="1986.8" r="4.55"/><circle cx="168.6" cy="1975.6" r="4.55"/><circle cx="171.1" cy="1989.6" r="4.55"/><circle cx="173.2" cy="2000.6" r="4.55"/><circle cx="176.1" cy="1989.6" r="4.55"/><circle cx="179.8" cy="1987.4" r="4.55"/><circle cx="182.7" cy="1984.7" r="4.55"/><circle cx="183.6" cy="1961.8" r="4.55"/><circle cx="186.9" cy="2000.6" r="4.55"/><circle cx="190.1" cy="1977.1" r="4.55"/><circle cx="193.2" cy="1992.7" r="4.55"/><circle cx="194.8" cy="1980.3" r="4.55"/><circle cx="197.7" cy="2009.7" r="4.55"/><circle cx="201.1" cy="1997.4" r="4.55"/><circle cx="204.2" cy="1998.7" r="4.55"/><circle cx="205.4" cy="1977.1" r="4.55"/><circle cx="208.5" cy="1965" r="4.55"/><circle cx="211.7" cy="1975.6" r="4.55"/><circle cx="214.8" cy="1958.5" r="4.55"/><circle cx="216" cy="1975.6" r="4.55"/><circle cx="219.2" cy="1966.2" r="4.55"/><circle cx="222.3" cy="1963.1" r="4.55"/><circle cx="225.4" cy="1977.1" r="4.55"/><circle cx="228.5" cy="1966.2" r="4.55"/><circle cx="230.2" cy="2003.7" r="4.55"/><circle cx="233.3" cy="1986.6" r="4.55"/><circle cx="236.4" cy="2003.4" r="4.55"/><circle cx="239.5" cy="1964.6" r="4.55"/><circle cx="241" cy="1974" r="4.55"/><circle cx="244.2" cy="1991.2" r="4.55"/><circle cx="247.3" cy="1980.3" r="4.55"/><circle cx="250.4" cy="1926" r="4.55"/><circle cx="255.1" cy="1989.6" r="4.55"/><circle cx="258.1" cy="1998.9" r="4.55"/><circle cx="261" cy="1984.7" r="4.55"/><circle cx="262.6" cy="1961.6" r="4.55"/><circle cx="265.8" cy="1992.7" r="4.55"/><circle cx="268.9" cy="1981.8" r="4.55"/><circle cx="272" cy="1972.5" r="4.55"/><circle cx="273.5" cy="1967.7" r="4.55"/><circle cx="276.6" cy="1967.7" r="4.55"/><circle cx="279.8" cy="1983.3" r="4.55"/><circle cx="282.9" cy="1972.5" r="4.55"/><circle cx="284.4" cy="1963.1" r="4.55"/><circle cx="287.5" cy="1967.7" r="4.55"/><circle cx="290.6" cy="1956.8" r="4.55"/><circle cx="293.7" cy="1938.5" r="4.55"/><circle cx="296.9" cy="1970.8" r="4.55"/><circle cx="298.5" cy="1988.1" r="4.55"/><circle cx="301.6" cy="1991.2" r="4.55"/><circle cx="304.4" cy="1992.4" r="4.55"/><circle cx="308.7" cy="1969.3" r="4.55"/><circle cx="311.9" cy="1977.5" r="4.55"/><circle cx="315.6" cy="1975" r="4.55"/><circle cx="318.5" cy="1989.7" r="4.55"/><circle cx="320" cy="1907.5" r="4.55"/><circle cx="322.7" cy="1961.8" r="4.55"/><circle cx="326" cy="1940" r="4.55"/><circle cx="329.4" cy="1930.6" r="4.55"/><circle cx="331.2" cy="1945" r="4.55"/><circle cx="335" cy="1946.2" r="4.55"/><circle cx="337.5" cy="1946.2" r="4.55"/><circle cx="340" cy="1960" r="4.55"/><circle cx="341.5" cy="1930.6" r="4.55"/><circle cx="344.7" cy="1921.2" r="4.55"/><circle cx="347.7" cy="1936.9" r="4.55"/><circle cx="350.6" cy="1966.5" r="4.55"/><circle cx="352.5" cy="1924.4" r="4.55"/><circle cx="355.6" cy="1956.8" r="4.55"/><circle cx="358.7" cy="1963.1" r="4.55"/><circle cx="361.6" cy="1938.5" r="4.55"/><circle cx="364.7" cy="1908.7" r="4.55"/><circle cx="366.2" cy="1915" r="4.55"/><circle cx="369.3" cy="1936.9" r="4.55"/><circle cx="372.5" cy="1947.8" r="4.55"/><circle cx="375.6" cy="1940" r="4.55"/><circle cx="377.1" cy="1919.7" r="4.55"/><circle cx="380.2" cy="1932.2" r="4.55"/><circle cx="383.4" cy="1941.6" r="4.55"/><circle cx="386.6" cy="1907.5" r="4.55"/><circle cx="388.1" cy="1949.3" r="4.55"/><circle cx="390.9" cy="1955.6" r="4.55"/><circle cx="394.3" cy="1933.7" r="4.55"/><circle cx="397.4" cy="1929.4" r="4.55"/><circle cx="399.3" cy="1932.2" r="4.55"/><circle cx="401.8" cy="1941.6" r="4.55"/><circle cx="404.9" cy="1943.1" r="4.55"/><circle cx="408.1" cy="1991.2" r="4.55"/><circle cx="409.3" cy="1946.2" r="4.55"/><circle cx="412.4" cy="1930.6" r="4.55"/><circle cx="415.9" cy="1944.7" r="4.55"/><circle cx="418.7" cy="1936.9" r="4.55"/><circle cx="420.5" cy="1929.4" r="4.55"/><circle cx="423.7" cy="1932.2" r="4.55"/><circle cx="426.8" cy="1922.9" r="4.55"/><circle cx="429.9" cy="1932.2" r="4.55"/><circle cx="432.4" cy="1947.8" r="4.55"/><circle cx="434.3" cy="1921.2" r="4.55"/><circle cx="437.4" cy="1954.1" r="4.55"/><circle cx="440.5" cy="1932.2" r="4.55"/><circle cx="443.7" cy="1930.6" r="4.55"/><circle cx="445.3" cy="1911.9" r="4.55"/><circle cx="448.4" cy="1921.2" r="4.55"/><circle cx="451.2" cy="1940" r="4.55"/><circle cx="454.3" cy="1935.4" r="4.55"/><circle cx="455.9" cy="1949.3" r="4.55"/><circle cx="459.3" cy="1933.7" r="4.55"/><circle cx="462.4" cy="1936.2" r="4.55"/><circle cx="465.1" cy="1952.5" r="4.55"/><circle cx="466.8" cy="1929.1" r="4.55"/><circle cx="469.3" cy="1949.3" r="4.55"/><circle cx="473" cy="1946.2" r="4.55"/><circle cx="476.1" cy="1938.5" r="4.55"/><circle cx="479.9" cy="1935.4" r="4.55"/><circle cx="483.6" cy="1946.2" r="4.55"/><circle cx="486.8" cy="1927.5" r="4.55"/><circle cx="488.4" cy="1935.4" r="4.55"/><circle cx="491.5" cy="1969.6" r="4.55"/><circle cx="494.6" cy="1943.1" r="4.55"/><circle cx="497.6" cy="1932.2" r="4.55"/><circle cx="501.1" cy="1926.2" r="4.55"/><circle cx="505.5" cy="1915" r="4.55"/><circle cx="508.6" cy="1933.7" r="4.55"/><circle cx="511.9" cy="1930.5" r="4.55"/><circle cx="513.1" cy="1888.7" r="4.55"/><circle cx="516.2" cy="1968.6" r="4.55"/><circle cx="519.4" cy="1960.1" r="4.55"/><circle cx="522.5" cy="1932.4" r="4.55"/><circle cx="523.7" cy="1908.1" r="4.55"/><circle cx="527.2" cy="1913.7" r="4.55"/><circle cx="530" cy="1933.7" r="4.55"/><circle cx="533.1" cy="1958.6" r="4.55"/><circle cx="535" cy="1956.8" r="4.55"/><circle cx="538.1" cy="1930.5" r="4.55"/><circle cx="541.2" cy="1938.7" r="4.55"/><circle cx="544.4" cy="1896.4" r="4.55"/><circle cx="545.6" cy="1943.4" r="4.55"/><circle cx="548.7" cy="1923" r="4.55"/><circle cx="551.8" cy="1908.7" r="4.55"/><circle cx="555" cy="1923" r="4.55"/><circle cx="556.8" cy="1926.2" r="4.55"/><circle cx="559.6" cy="1944.7" r="4.55"/><circle cx="563.1" cy="1926.2" r="4.55"/><circle cx="565.8" cy="1936.8" r="4.55"/><circle cx="569" cy="1914.9" r="4.55"/><circle cx="570.3" cy="1954" r="4.55"/><circle cx="573.5" cy="1932.2" r="4.55"/><circle cx="576.5" cy="1941.5" r="4.55"/><circle cx="579.7" cy="1924.3" r="4.55"/><circle cx="581.2" cy="1941.5" r="4.55"/><circle cx="584.3" cy="1946.2" r="4.55"/><circle cx="587.4" cy="1905.9" r="4.55"/><circle cx="590.6" cy="1926.2" r="4.55"/><circle cx="592.1" cy="1933.7" r="4.55"/><circle cx="595.2" cy="1926.2" r="4.55"/><circle cx="598.1" cy="1943" r="4.55"/><circle cx="601.8" cy="1933.7" r="4.55"/><circle cx="603.1" cy="1966.1" r="4.55"/><circle cx="606.2" cy="1926.2" r="4.55"/><circle cx="609.3" cy="1806.9" r="4.55"/><circle cx="612.4" cy="1958.6" r="4.55"/><circle cx="613.9" cy="1943" r="4.55"/><circle cx="616.8" cy="1902.8" r="4.55"/><circle cx="619.9" cy="1899.7" r="4.55"/><circle cx="623.1" cy="1902.8" r="4.55"/><circle cx="624.9" cy="1905.9" r="4.55"/><circle cx="628" cy="1876.2" r="4.55"/><circle cx="630.9" cy="1891.8" r="4.55"/><circle cx="634" cy="1905.9" r="4.55"/><circle cx="637.2" cy="1876.2" r="4.55"/><circle cx="638.7" cy="1891.8" r="4.55"/><circle cx="641.8" cy="1896.4" r="4.55"/><circle cx="644.9" cy="1885.6" r="4.55"/><circle cx="648" cy="1883.9" r="4.55"/><circle cx="649.7" cy="1912.2" r="4.55"/><circle cx="652.8" cy="1909.1" r="4.55"/><circle cx="655.9" cy="1944.7" r="4.55"/><circle cx="658" cy="1919.9" r="4.55"/><circle cx="660.5" cy="1919.9" r="4.55"/><circle cx="663.7" cy="1896.4" r="4.55"/><circle cx="666.8" cy="1912.2" r="4.55"/><circle cx="669.3" cy="1899.7" r="4.55"/><circle cx="671.1" cy="1885.6" r="4.55"/><circle cx="674.3" cy="1882.4" r="4.55"/><circle cx="677.4" cy="1899.7" r="4.55"/><circle cx="680.5" cy="1916.8" r="4.55"/><circle cx="682.1" cy="1911.8" r="4.55"/><circle cx="685.3" cy="1902.8" r="4.55"/><circle cx="688.4" cy="1879.3" r="4.55"/><circle cx="691.1" cy="1946.2" r="4.55"/><circle cx="695.9" cy="1893.4" r="4.55"/><circle cx="699" cy="1904.3" r="4.55"/><circle cx="702.1" cy="1927.8" r="4.55"/><circle cx="705.2" cy="1899.7" r="4.55"/><circle cx="707.4" cy="1904.3" r="4.55"/><circle cx="712.4" cy="1908.1" r="4.55"/><circle cx="716.1" cy="1905.9" r="4.55"/><circle cx="717.4" cy="1926.2" r="4.55"/><circle cx="720.6" cy="1929.3" r="4.55"/><circle cx="723.7" cy="1911.8" r="4.55"/><circle cx="727.5" cy="1898.1" r="4.55"/><circle cx="731.6" cy="1926.2" r="4.55"/><circle cx="734.7" cy="1919.9" r="4.55"/><circle cx="737.9" cy="1891.6" r="4.55"/><circle cx="742.2" cy="1891.6" r="4.55"/><circle cx="745.4" cy="1907.2" r="4.55"/><circle cx="749.4" cy="1909.3" r="4.55"/><circle cx="752.5" cy="1918.7" r="4.55"/><circle cx="754.4" cy="1911.2" r="4.55"/><circle cx="756.2" cy="1907.2" r="4.55"/><circle cx="758.7" cy="1914.9" r="4.55"/><circle cx="761" cy="1909.9" r="4.55"/><circle cx="763.7" cy="1924.3" r="4.55"/><circle cx="767.5" cy="1926.2" r="4.55"/><circle cx="769" cy="1865.6" r="4.55"/><circle cx="773.1" cy="1848.5" r="4.55"/><circle cx="773.7" cy="1866" r="4.55"/><circle cx="777.5" cy="1866.8" r="4.55"/><circle cx="780.6" cy="1861.2" r="4.55"/><circle cx="783.1" cy="1866.8" r="4.55"/><circle cx="785" cy="1861" r="4.55"/><circle cx="788.7" cy="1864.1" r="4.55"/><circle cx="791.8" cy="1893.5" r="4.55"/><circle cx="794.7" cy="1877.8" r="4.55"/><circle cx="796.2" cy="1862.5" r="4.55"/><circle cx="799.7" cy="1857.5" r="4.55"/><circle cx="802.8" cy="1867.2" r="4.55"/><circle cx="805.9" cy="1876.6" r="4.55"/><circle cx="807.4" cy="1961.8" r="4.55"/><circle cx="811.2" cy="1963" r="4.55"/><circle cx="814.9" cy="1960.5" r="4.55"/><circle cx="816.4" cy="1978.9" r="4.55"/><circle cx="818.1" cy="1957.2" r="4.55"/><circle cx="821.2" cy="1968" r="4.55"/><circle cx="824.3" cy="1977.4" r="4.55"/><circle cx="827.4" cy="1963.4" r="4.55"/><circle cx="828.7" cy="2011.1" r="4.55"/><circle cx="831.8" cy="1952.4" r="4.55"/><circle cx="834.9" cy="1969.7" r="4.55"/><circle cx="838" cy="1989.9" r="4.55"/><circle cx="841.2" cy="1983.6" r="4.55"/><circle cx="842.7" cy="1952.4" r="4.55"/><circle cx="845.9" cy="1983.6" r="4.55"/><circle cx="848.9" cy="1972.7" r="4.55"/><circle cx="852.2" cy="1978.9" r="4.55"/><circle cx="853.7" cy="1971.2" r="4.55"/><circle cx="856.8" cy="1986.8" r="4.55"/><circle cx="859.9" cy="1991.4" r="4.55"/><circle cx="863" cy="1977.4" r="4.55"/><circle cx="864.7" cy="1996.1" r="4.55"/><circle cx="867.7" cy="1982.4" r="4.55"/><circle cx="870.9" cy="1980.5" r="4.55"/><circle cx="873.9" cy="1983.6" r="4.55"/><circle cx="875.1" cy="1997.4" r="4.55"/><circle cx="878.6" cy="1991.8" r="4.55"/><circle cx="881.8" cy="1994.3" r="4.55"/><circle cx="884.9" cy="1993" r="4.55"/><circle cx="885.5" cy="1968" r="4.55"/><circle cx="889" cy="1984.9" r="4.55"/><circle cx="891.8" cy="1964.9" r="4.55"/><circle cx="895.5" cy="1963" r="4.55"/><circle cx="896.8" cy="1988" r="4.55"/><circle cx="899.9" cy="1978.9" r="4.55"/><circle cx="902.4" cy="1984.9" r="4.55"/><circle cx="906.1" cy="1983.6" r="4.55"/><circle cx="909.3" cy="1983.6" r="4.55"/><circle cx="910.9" cy="1989.9" r="4.55"/><circle cx="913.6" cy="1924.7" r="4.55"/><circle cx="916.7" cy="1913.7" r="4.55"/><circle cx="919.9" cy="1904.3" r="4.55"/><circle cx="922.4" cy="1913.7" r="4.55"/><circle cx="924.9" cy="1926.2" r="4.55"/><circle cx="927.4" cy="1873.7" r="4.55"/><circle cx="931" cy="1910.2" r="4.55"/><circle cx="932.5" cy="1929.3" r="4.55"/><circle cx="935.6" cy="1890.6" r="4.55"/><circle cx="938.7" cy="1898.1" r="4.55"/><circle cx="943.1" cy="1905.9" r="4.55"/><circle cx="945" cy="1895" r="4.55"/><circle cx="946.9" cy="1891.8" r="4.55"/><circle cx="950.6" cy="1895" r="4.55"/><circle cx="952.5" cy="1913.4" r="4.55"/><circle cx="955" cy="1898.1" r="4.55"/><circle cx="957.2" cy="1885.6" r="4.55"/><circle cx="960.2" cy="1904.3" r="4.55"/><circle cx="963.3" cy="1912.2" r="4.55"/><circle cx="965" cy="1871.5" r="4.55"/><circle cx="968.1" cy="1899.6" r="4.55"/><circle cx="971.2" cy="1876.2" r="4.55"/><circle cx="974.3" cy="1888.7" r="4.55"/><circle cx="977.5" cy="1873.1" r="4.55"/><circle cx="978.7" cy="1924.3" r="4.55"/><circle cx="982.2" cy="1921.2" r="4.55"/><circle cx="985" cy="1969.3" r="4.55"/><circle cx="988.1" cy="1991.1" r="4.55"/><circle cx="989.3" cy="1986.1" r="4.55"/><circle cx="992.5" cy="1982.4" r="4.55"/><circle cx="996" cy="1977.2" r="4.55"/><circle cx="997.5" cy="1980.5" r="4.55"/><circle cx="1000.6" cy="1983.6" r="4.55"/><circle cx="1003.7" cy="1979.9" r="4.55"/><circle cx="1006.6" cy="1939.9" r="4.55"/><circle cx="1010.6" cy="1997.4" r="4.55"/><circle cx="1014.3" cy="1989.3" r="4.55"/><circle cx="1017.4" cy="1975.5" r="4.55"/><circle cx="1020.6" cy="1994.3" r="4.55"/><circle cx="1022.2" cy="1984.9" r="4.55"/><circle cx="1025.6" cy="1969.3" r="4.55"/><circle cx="1028.4" cy="1969.3" r="4.55"/><circle cx="1031.2" cy="1979.9" r="4.55"/><circle cx="1032.8" cy="1994.3" r="4.55"/><circle cx="1035.6" cy="1983.6" r="4.55"/><circle cx="1038.7" cy="1988" r="4.55"/><circle cx="1042.4" cy="1993" r="4.55"/><circle cx="1045.5" cy="1986.1" r="4.55"/><circle cx="1047" cy="2014.3" r="4.55"/><circle cx="1049.9" cy="1932.4" r="4.55"/><circle cx="1053" cy="1879.3" r="4.55"/><circle cx="1056.2" cy="1896.5" r="4.55"/><circle cx="1057.4" cy="1907.4" r="4.55"/><circle cx="1061.2" cy="1903.1" r="4.55"/><circle cx="1063.7" cy="1908.9" r="4.55"/><circle cx="1066.8" cy="1906.8" r="4.55"/><circle cx="1068.7" cy="1910.6" r="4.55"/><circle cx="1071.2" cy="1808.1" r="4.55"/><circle cx="1075" cy="1811.2" r="4.55"/><circle cx="1077.7" cy="1800" r="4.55"/><circle cx="1079.3" cy="1830.2" r="4.55"/><circle cx="1082.4" cy="1821.2" r="4.55"/><circle cx="1085.6" cy="1808.1" r="4.55"/><circle cx="1088.6" cy="1895" r="4.55"/><circle cx="1090.1" cy="1885.6" r="4.55"/><circle cx="1093" cy="1867.2" r="4.55"/><circle cx="1096.8" cy="1885.6" r="4.55"/><circle cx="1099.5" cy="1896.5" r="4.55"/><circle cx="1101.1" cy="1890.2" r="4.55"/><circle cx="1104.3" cy="1910.6" r="4.55"/><circle cx="1107.4" cy="1911.8" r="4.55"/><circle cx="1110.5" cy="1902.4" r="4.55"/><circle cx="1113.6" cy="1904.3" r="4.55"/><circle cx="1114.9" cy="1913.7" r="4.55"/><circle cx="1118" cy="1923.1" r="4.55"/><circle cx="1121.1" cy="1921.2" r="4.55"/><circle cx="1124.2" cy="1923.1" r="4.55"/><circle cx="1125.5" cy="1898.1" r="4.55"/><circle cx="1129.2" cy="1898.1" r="4.55"/><circle cx="1131.7" cy="1848.7" r="4.55"/><circle cx="1133.6" cy="1859.3" r="4.55"/><circle cx="1136.8" cy="1868.9" r="4.55"/><circle cx="1139.7" cy="1874.9" r="4.55"/><circle cx="1143.1" cy="1866.2" r="4.55"/><circle cx="1145.9" cy="1850" r="4.55"/><circle cx="1147.7" cy="1862.4" r="4.55"/><circle cx="1151.2" cy="1864.3" r="4.55"/><circle cx="1153.7" cy="1848.1" r="4.55"/><circle cx="1156.8" cy="1853.7" r="4.55"/><circle cx="1158.1" cy="1842.5" r="4.55"/><circle cx="1161.2" cy="1847.5" r="4.55"/><circle cx="1164.3" cy="1841.2" r="4.55"/><circle cx="1167.4" cy="1845.6" r="4.55"/><circle cx="1170.5" cy="1841.2" r="4.55"/><circle cx="1173.7" cy="1840.6" r="4.55"/><circle cx="1175.9" cy="1842.5" r="4.55"/><circle cx="1178.7" cy="1830" r="4.55"/><circle cx="1182.2" cy="1862.4" r="4.55"/><circle cx="1185.9" cy="1870.2" r="4.55"/><circle cx="1189.3" cy="1881.2" r="4.55"/><circle cx="1193" cy="1865.6" r="4.55"/><circle cx="1197" cy="1851.5" r="4.55"/><circle cx="1199.9" cy="1871.8" r="4.55"/><circle cx="1203" cy="1867.2" r="4.55"/><circle cx="1206.1" cy="1863.9" r="4.55"/><circle cx="1208" cy="1857.5" r="4.55"/><circle cx="1211.1" cy="1863.9" r="4.55"/><circle cx="1214.3" cy="1862.4" r="4.55"/><circle cx="1215.9" cy="1868.7" r="4.55"/><circle cx="1218.9" cy="1876.4" r="4.55"/><circle cx="1221.8" cy="1856.2" r="4.55"/><circle cx="1224.9" cy="1796" r="4.55"/><circle cx="1226.4" cy="1870.2" r="4.55"/><circle cx="1229.6" cy="1857.7" r="4.55"/><circle cx="1232.4" cy="1871.8" r="4.55"/><circle cx="1235.5" cy="1867.2" r="4.55"/><circle cx="1238" cy="1868.7" r="4.55"/><circle cx="1240.5" cy="1862.4" r="4.55"/><circle cx="1243.6" cy="1850" r="4.55"/><circle cx="1246.4" cy="1896.8" r="4.55"/><circle cx="1249.5" cy="1881.2" r="4.55"/><circle cx="1251.1" cy="1888.7" r="4.55"/><circle cx="1254.2" cy="1839.3" r="4.55"/><circle cx="1257.4" cy="1825" r="4.55"/><circle cx="1260.6" cy="1821.8" r="4.55"/><circle cx="1262.1" cy="1833.1" r="4.55"/><circle cx="1265" cy="1845" r="4.55"/><circle cx="1268.7" cy="1839.3" r="4.55"/><circle cx="1271.2" cy="1845" r="4.55"/><circle cx="1273.1" cy="1841.2" r="4.55"/><circle cx="1276" cy="1829.7" r="4.55"/><circle cx="1279" cy="1848.5" r="4.55"/><circle cx="1282.2" cy="1840.6" r="4.55"/><circle cx="1286.9" cy="1842.2" r="4.55"/><circle cx="1290" cy="1834.3" r="4.55"/><circle cx="1294.3" cy="1836.2" r="4.55"/><circle cx="1297.5" cy="1824" r="4.55"/><circle cx="1300.6" cy="1838.7" r="4.55"/><circle cx="1304.3" cy="1841" r="4.55"/><circle cx="1305" cy="1824" r="4.55"/><circle cx="1308.1" cy="1821.8" r="4.55"/><circle cx="1311.2" cy="1832.7" r="4.55"/><circle cx="1315" cy="1825" r="4.55"/><circle cx="1318.1" cy="1829.7" r="4.55"/><circle cx="1319.3" cy="1825" r="4.55"/><circle cx="1322.5" cy="1846.8" r="4.55"/><circle cx="1325.6" cy="1825.2" r="4.55"/><circle cx="1328.5" cy="1805" r="4.55"/><circle cx="1330" cy="1812.7" r="4.55"/><circle cx="1336.2" cy="1815.6" r="4.55"/><circle cx="1339.3" cy="1786.5" r="4.55"/><circle cx="1340.9" cy="1810" r="4.55"/><circle cx="1343.9" cy="1868.7" r="4.55"/><circle cx="1346.8" cy="1875.2" r="4.55"/><circle cx="1350.2" cy="1862.2" r="4.55"/><circle cx="1351.8" cy="1842.2" r="4.55"/><circle cx="1354.9" cy="1879.7" r="4.55"/><circle cx="1358.1" cy="1857.5" r="4.55"/><circle cx="1361.2" cy="1870.2" r="4.55"/><circle cx="1363.1" cy="1858.5" r="4.55"/><circle cx="1365.9" cy="1856" r="4.55"/><circle cx="1368.9" cy="1860.9" r="4.55"/><circle cx="1371.8" cy="1933.4" r="4.55"/><circle cx="1374.9" cy="1929.3" r="4.55"/><circle cx="1379.3" cy="1924.3" r="4.55"/><circle cx="1382.7" cy="1929.3" r="4.55"/><circle cx="1385.9" cy="1913" r="4.55"/><circle cx="1387.4" cy="1919.9" r="4.55"/><circle cx="1390.5" cy="1918" r="4.55"/><circle cx="1393.7" cy="1936.8" r="4.55"/><circle cx="1396.8" cy="1935.5" r="4.55"/><circle cx="1398.3" cy="1925.9" r="4.55"/><circle cx="1401.2" cy="1916.2" r="4.55"/><circle cx="1404.9" cy="1918" r="4.55"/><circle cx="1407.4" cy="1955.9" r="4.55"/><circle cx="1408.9" cy="1938.7" r="4.55"/><circle cx="1412" cy="1946.1" r="4.55"/><circle cx="1415.1" cy="1938.7" r="4.55"/><circle cx="1418.3" cy="1961.8" r="4.55"/><circle cx="1419.6" cy="1905.5" r="4.55"/><circle cx="1423" cy="1927.4" r="4.55"/><circle cx="1426.1" cy="1931.8" r="4.55"/><circle cx="1429.3" cy="1936.8" r="4.55"/><circle cx="1430.5" cy="1946.1" r="4.55"/><circle cx="1433.6" cy="1957.1" r="4.55"/><circle cx="1436.8" cy="1946.1" r="4.55"/><circle cx="1440" cy="2005.1" r="4.55"/><circle cx="1441.1" cy="1976.8" r="4.55"/><circle cx="1444.6" cy="1966.1" r="4.55"/><circle cx="1447.5" cy="2000.5" r="4.55"/><circle cx="1450.5" cy="1975.5" r="4.55"/><circle cx="1453.7" cy="1983.4" r="4.55"/><circle cx="1455.4" cy="2006.8" r="4.55"/><circle cx="1458.5" cy="1992.6" r="4.55"/><circle cx="1461.1" cy="1958.6" r="4.55"/><circle cx="1464.4" cy="1974.9" r="4.55"/><circle cx="1466.8" cy="1980.5" r="4.55"/><circle cx="1470" cy="1982.2" r="4.55"/><circle cx="1471.8" cy="1966.2" r="4.55"/><circle cx="1475.3" cy="2006.8" r="4.55"/><circle cx="1476.8" cy="1964.3" r="4.55"/><circle cx="1480" cy="1978.7" r="4.55"/><circle cx="1483.5" cy="1964.7" r="4.55"/><circle cx="1486.2" cy="1991.1" r="4.55"/><circle cx="1488.1" cy="1932.4" r="4.55"/><circle cx="1491.8" cy="1933.7" r="4.55"/><circle cx="1494.3" cy="1925.9" r="4.55"/><circle cx="1497.1" cy="1887.1" r="4.55"/><circle cx="1498.7" cy="1927.4" r="4.55"/><circle cx="1501.8" cy="1907.2" r="4.55"/><circle cx="1505" cy="1925.9" r="4.55"/><circle cx="1506.8" cy="1911.2" r="4.55"/><circle cx="1509.9" cy="1913.7" r="4.55"/><circle cx="1512.4" cy="1894.7" r="4.55"/><circle cx="1515.9" cy="1891.2" r="4.55"/><circle cx="1518.7" cy="1924.6" r="4.55"/><circle cx="1521.8" cy="1905.6" r="4.55"/><circle cx="1523.3" cy="1913.7" r="4.55"/><circle cx="1526.4" cy="1902.5" r="4.55"/><circle cx="1529.3" cy="1929.3" r="4.55"/><circle cx="1532.7" cy="1925.9" r="4.55"/><circle cx="1534.3" cy="1888.7" r="4.55"/><circle cx="1537.4" cy="1925.9" r="4.55"/><circle cx="1540.2" cy="1910.3" r="4.55"/><circle cx="1543.4" cy="1895" r="4.55"/><circle cx="1544.9" cy="1929.3" r="4.55"/><circle cx="1548" cy="1919.9" r="4.55"/><circle cx="1551.8" cy="1921.4" r="4.55"/><circle cx="1555.5" cy="1921.4" r="4.55"/><circle cx="1558.7" cy="1926.2" r="4.55"/><circle cx="1561.8" cy="1926.2" r="4.55"/><circle cx="1564.9" cy="1927.7" r="4.55"/><circle cx="1566.8" cy="1924.3" r="4.55"/><circle cx="1569.7" cy="1938.4" r="4.55"/><circle cx="1572.8" cy="1901.2" r="4.55"/><circle cx="1576.2" cy="1891.8" r="4.55"/><circle cx="1577.4" cy="1907.4" r="4.55"/><circle cx="1580.5" cy="1926.2" r="4.55"/><circle cx="1583.7" cy="1884" r="4.55"/><circle cx="1586.8" cy="1905.8" r="4.55"/><circle cx="1589.9" cy="1898.1" r="4.55"/><circle cx="1591.8" cy="1894.7" r="4.55"/><circle cx="1594.5" cy="1916.6" r="4.55"/><circle cx="1597.6" cy="1927.7" r="4.55"/><circle cx="1600.8" cy="1935.6" r="4.55"/><circle cx="1602.4" cy="1884" r="4.55"/><circle cx="1605.5" cy="1896.5" r="4.55"/><circle cx="1608.6" cy="1893.3" r="4.55"/><circle cx="1611.8" cy="1929.3" r="4.55"/><circle cx="1613" cy="1895" r="4.55"/><circle cx="1616.1" cy="1915.2" r="4.55"/><circle cx="1619.3" cy="1913.4" r="4.55"/><circle cx="1622.4" cy="1893.3" r="4.55"/><circle cx="1624" cy="1859.4" r="4.55"/><circle cx="1627.1" cy="1837.9" r="4.55"/><circle cx="1630.5" cy="1892.1" r="4.55"/></g>
<rect x="323.2" y="1756.9" width="171.4" height="368.9" fill="#d0d5d2" fill-opacity="0.36"/>
<rect x="688.3" y="1756.9" width="81.4" height="368.9" fill="#d0d5d2" fill-opacity="0.36"/>
<path d="M321 1757.5V2124.9" stroke="#3a3a3c" stroke-width="1.5" fill="none"/>
<text class="c" transform="translate(63.2 1765.9) scale(1 1.05)">3</text>
<text class="c" transform="translate(63.2 1825.9) scale(1 1.05)">2</text>
<text class="c" transform="translate(63.2 1888.6) scale(1 1.05)">1</text>
<text class="c" transform="translate(63.2 1950.4) scale(1 1.05)">0</text>
<text class="c" transform="translate(57.2 2011.1) scale(1 1.05)">-1</text>
<text class="c" transform="translate(57.2 2067.7) scale(1 1.05)">-2</text>
<text class="c" transform="translate(57.2 2127.7) scale(1 1.05)">-3</text>
<text class="c" text-anchor="middle" transform="translate(44.2 1927.3) rotate(-90) scale(1 1.05)">log2(ratio)</text>
</g>
<text class="c" transform="translate(308 2168.8) scale(1 1.05)">C</text>
<text class="c i" transform="translate(376.3 2168.8) scale(1 1.05)">NF1</text>
<text class="c i" transform="translate(672.8 2168.8) scale(1 1.05)">ERBB2</text>
</g>
</svg></body></html>
